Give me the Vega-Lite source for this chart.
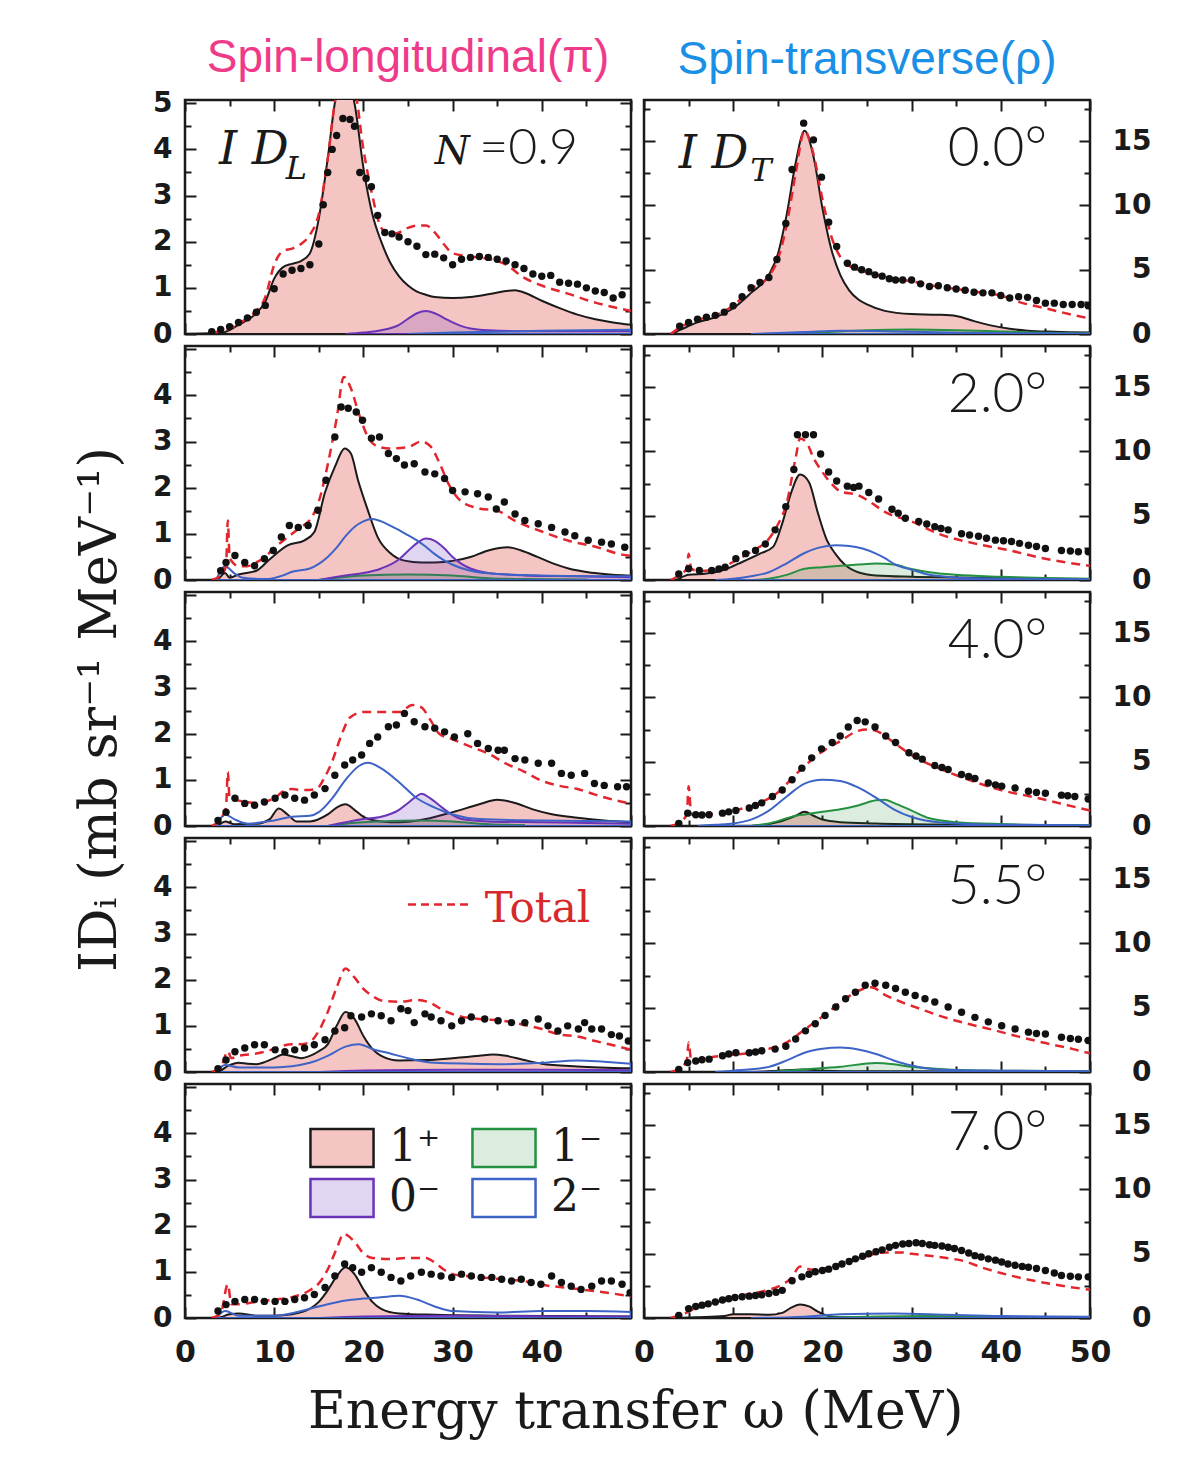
{
"$schema":"https://vega.github.io/schema/vega-lite/v6.json",
"background":"white",
"padding":{"left":72,"top":33,"right":8,"bottom":8},
"config":{"view":{"stroke":"#1a1a1a","strokeWidth":2.5},"axis":{"domain":false,"grid":false}},
"title":{"text":"Energy transfer ω (MeV)","orient":"bottom","anchor":"middle","font":"DejaVu Serif","fontSize":52,"fontWeight":"normal","color":"#1a1a1a","offset":14,"dx":21},
"datasets":{
"pts":[
{"p":"L1","x":3,"y":0.05},{"p":"L1","x":4,"y":0.1},{"p":"L1","x":5,"y":0.16},{"p":"L1","x":6,"y":0.25},{"p":"L1","x":7,"y":0.35},{"p":"L1","x":8,"y":0.47},{"p":"L1","x":9,"y":0.62},{"p":"L1","x":10,"y":0.98},{"p":"L1","x":11,"y":1.3},{"p":"L1","x":12,"y":1.38},{"p":"L1","x":13,"y":1.42},{"p":"L1","x":14,"y":1.5},{"p":"L1","x":15,"y":1.95},{"p":"L1","x":15.5,"y":2.8},{"p":"L1","x":16,"y":3.5},{"p":"L1","x":16.5,"y":4.0},{"p":"L1","x":17,"y":4.3},{"p":"L1","x":17.7,"y":4.67},{"p":"L1","x":18.5,"y":4.65},{"p":"L1","x":19,"y":4.5},{"p":"L1","x":19.6,"y":3.5},{"p":"L1","x":20.3,"y":3.37},{"p":"L1","x":20.9,"y":3.19},{"p":"L1","x":21.6,"y":2.57},{"p":"L1","x":22.4,"y":2.2},{"p":"L1","x":23.2,"y":2.17},{"p":"L1","x":24,"y":2.1},{"p":"L1","x":25,"y":2.0},{"p":"L1","x":26,"y":1.9},{"p":"L1","x":27,"y":1.72},{"p":"L1","x":28,"y":1.73},{"p":"L1","x":29,"y":1.65},{"p":"L1","x":30,"y":1.5},{"p":"L1","x":31,"y":1.62},{"p":"L1","x":32,"y":1.66},{"p":"L1","x":33,"y":1.68},{"p":"L1","x":34,"y":1.66},{"p":"L1","x":35,"y":1.62},{"p":"L1","x":36,"y":1.58},{"p":"L1","x":37,"y":1.5},{"p":"L1","x":38,"y":1.42},{"p":"L1","x":39,"y":1.3},{"p":"L1","x":40,"y":1.25},{"p":"L1","x":41,"y":1.27},{"p":"L1","x":42,"y":1.12},{"p":"L1","x":43,"y":1.1},{"p":"L1","x":44,"y":1.08},{"p":"L1","x":45,"y":1.0},{"p":"L1","x":46,"y":0.93},{"p":"L1","x":47,"y":0.9},{"p":"L1","x":48,"y":0.78},{"p":"L1","x":49,"y":0.85},
{"p":"R1","x":4,"y":0.6},{"p":"R1","x":5,"y":0.9},{"p":"R1","x":6,"y":1.15},{"p":"R1","x":7,"y":1.3},{"p":"R1","x":8,"y":1.45},{"p":"R1","x":9,"y":1.7},{"p":"R1","x":10,"y":2.2},{"p":"R1","x":11,"y":2.9},{"p":"R1","x":12,"y":3.6},{"p":"R1","x":13,"y":4.0},{"p":"R1","x":14,"y":4.4},{"p":"R1","x":14.9,"y":5.8},{"p":"R1","x":15.9,"y":8.6},{"p":"R1","x":16.6,"y":12.8},{"p":"R1","x":17.9,"y":16.4},{"p":"R1","x":19,"y":15.1},{"p":"R1","x":19.9,"y":12.2},{"p":"R1","x":20.7,"y":8.7},{"p":"R1","x":21.6,"y":6.8},{"p":"R1","x":22.8,"y":5.5},{"p":"R1","x":23.6,"y":5.2},{"p":"R1","x":24.4,"y":5.0},{"p":"R1","x":25.2,"y":4.85},{"p":"R1","x":25.9,"y":4.6},{"p":"R1","x":26.7,"y":4.5},{"p":"R1","x":27.5,"y":4.3},{"p":"R1","x":28.2,"y":4.2},{"p":"R1","x":29,"y":4.2},{"p":"R1","x":30,"y":4.2},{"p":"R1","x":31,"y":3.9},{"p":"R1","x":32,"y":3.7},{"p":"R1","x":33,"y":3.75},{"p":"R1","x":34,"y":3.6},{"p":"R1","x":35,"y":3.5},{"p":"R1","x":36,"y":3.4},{"p":"R1","x":37,"y":3.25},{"p":"R1","x":38,"y":3.2},{"p":"R1","x":39,"y":3.2},{"p":"R1","x":40,"y":3.0},{"p":"R1","x":41,"y":2.8},{"p":"R1","x":42,"y":2.9},{"p":"R1","x":43,"y":2.85},{"p":"R1","x":44,"y":2.6},{"p":"R1","x":45,"y":2.4},{"p":"R1","x":46,"y":2.4},{"p":"R1","x":47,"y":2.3},{"p":"R1","x":48,"y":2.3},{"p":"R1","x":49,"y":2.3},{"p":"R1","x":49.8,"y":2.2},
{"p":"L2","x":4,"y":0.2},{"p":"L2","x":4.6,"y":0.38},{"p":"L2","x":5.6,"y":0.53},{"p":"L2","x":6.7,"y":0.38},{"p":"L2","x":7.8,"y":0.31},{"p":"L2","x":8.9,"y":0.46},{"p":"L2","x":9.9,"y":0.64},{"p":"L2","x":10.8,"y":0.93},{"p":"L2","x":11.7,"y":1.18},{"p":"L2","x":12.7,"y":1.14},{"p":"L2","x":13.8,"y":1.18},{"p":"L2","x":14.9,"y":1.51},{"p":"L2","x":15.8,"y":2.16},{"p":"L2","x":16.8,"y":3.1},{"p":"L2","x":17.5,"y":3.75},{"p":"L2","x":18.3,"y":3.72},{"p":"L2","x":19.2,"y":3.64},{"p":"L2","x":19.9,"y":3.46},{"p":"L2","x":20.9,"y":3.07},{"p":"L2","x":21.8,"y":3.1},{"p":"L2","x":22.8,"y":2.74},{"p":"L2","x":23.7,"y":2.63},{"p":"L2","x":24.6,"y":2.49},{"p":"L2","x":25.7,"y":2.52},{"p":"L2","x":26.9,"y":2.34},{"p":"L2","x":28.0,"y":2.3},{"p":"L2","x":29.1,"y":2.2},{"p":"L2","x":30.0,"y":1.94},{"p":"L2","x":31.4,"y":1.91},{"p":"L2","x":32.8,"y":1.87},{"p":"L2","x":34.0,"y":1.8},{"p":"L2","x":34.9,"y":1.54},{"p":"L2","x":35.8,"y":1.69},{"p":"L2","x":37.0,"y":1.43},{"p":"L2","x":38.1,"y":1.29},{"p":"L2","x":39.6,"y":1.22},{"p":"L2","x":41.1,"y":1.14},{"p":"L2","x":42.6,"y":1.04},{"p":"L2","x":43.7,"y":0.96},{"p":"L2","x":45.2,"y":0.86},{"p":"L2","x":46.7,"y":0.82},{"p":"L2","x":47.8,"y":0.78},{"p":"L2","x":49.3,"y":0.71},
{"p":"R2","x":3.9,"y":0.47},{"p":"R2","x":5.0,"y":0.87},{"p":"R2","x":6.2,"y":0.74},{"p":"R2","x":7.6,"y":0.74},{"p":"R2","x":8.4,"y":0.85},{"p":"R2","x":9.1,"y":1.0},{"p":"R2","x":10.3,"y":1.66},{"p":"R2","x":11.4,"y":2.05},{"p":"R2","x":12.5,"y":2.3},{"p":"R2","x":13.6,"y":2.8},{"p":"R2","x":14.7,"y":3.9},{"p":"R2","x":15.9,"y":5.7},{"p":"R2","x":16.8,"y":8.6},{"p":"R2","x":17.2,"y":11.3},{"p":"R2","x":18.1,"y":11.3},{"p":"R2","x":19.0,"y":11.3},{"p":"R2","x":19.8,"y":9.8},{"p":"R2","x":20.7,"y":8.4},{"p":"R2","x":21.6,"y":7.7},{"p":"R2","x":22.8,"y":7.3},{"p":"R2","x":23.5,"y":7.2},{"p":"R2","x":24.1,"y":7.3},{"p":"R2","x":25.2,"y":6.8},{"p":"R2","x":26.3,"y":6.3},{"p":"R2","x":27.8,"y":5.5},{"p":"R2","x":28.5,"y":5.2},{"p":"R2","x":29.3,"y":4.8},{"p":"R2","x":30.8,"y":4.55},{"p":"R2","x":31.7,"y":4.35},{"p":"R2","x":32.6,"y":4.15},{"p":"R2","x":33.3,"y":4.0},{"p":"R2","x":34.1,"y":3.9},{"p":"R2","x":35.6,"y":3.6},{"p":"R2","x":36.5,"y":3.5},{"p":"R2","x":37.5,"y":3.4},{"p":"R2","x":38.4,"y":3.25},{"p":"R2","x":39.4,"y":3.1},{"p":"R2","x":40.3,"y":3.05},{"p":"R2","x":41.2,"y":3.0},{"p":"R2","x":42.1,"y":2.85},{"p":"R2","x":43.1,"y":2.7},{"p":"R2","x":44,"y":2.6},{"p":"R2","x":45.0,"y":2.45},{"p":"R2","x":46.8,"y":2.3},{"p":"R2","x":47.8,"y":2.25},{"p":"R2","x":48.7,"y":2.2},{"p":"R2","x":49.8,"y":2.2},
{"p":"L3","x":3.7,"y":0.12},{"p":"L3","x":4.6,"y":0.3},{"p":"L3","x":5.6,"y":0.6},{"p":"L3","x":6.7,"y":0.49},{"p":"L3","x":7.8,"y":0.45},{"p":"L3","x":8.9,"y":0.52},{"p":"L3","x":10.1,"y":0.6},{"p":"L3","x":11.2,"y":0.67},{"p":"L3","x":12.3,"y":0.6},{"p":"L3","x":13.4,"y":0.56},{"p":"L3","x":14.5,"y":0.67},{"p":"L3","x":15.7,"y":0.81},{"p":"L3","x":16.8,"y":1.1},{"p":"L3","x":17.9,"y":1.32},{"p":"L3","x":18.8,"y":1.43},{"p":"L3","x":19.8,"y":1.54},{"p":"L3","x":20.7,"y":1.79},{"p":"L3","x":21.6,"y":1.93},{"p":"L3","x":22.8,"y":2.15},{"p":"L3","x":23.7,"y":2.19},{"p":"L3","x":24.6,"y":2.44},{"p":"L3","x":25.7,"y":2.26},{"p":"L3","x":26.9,"y":2.15},{"p":"L3","x":28.0,"y":2.12},{"p":"L3","x":29.1,"y":2.04},{"p":"L3","x":30.2,"y":1.93},{"p":"L3","x":31.7,"y":2.0},{"p":"L3","x":32.8,"y":1.79},{"p":"L3","x":34.0,"y":1.68},{"p":"L3","x":35.1,"y":1.64},{"p":"L3","x":35.8,"y":1.64},{"p":"L3","x":37.0,"y":1.46},{"p":"L3","x":38.1,"y":1.43},{"p":"L3","x":39.6,"y":1.36},{"p":"L3","x":41.1,"y":1.36},{"p":"L3","x":42.2,"y":1.14},{"p":"L3","x":43.3,"y":1.1},{"p":"L3","x":44.8,"y":1.14},{"p":"L3","x":45.9,"y":0.92},{"p":"L3","x":47.0,"y":0.88},{"p":"L3","x":48.5,"y":0.85},{"p":"L3","x":49.5,"y":0.85},
{"p":"R3","x":3.9,"y":0.2},{"p":"R3","x":4.9,"y":1.0},{"p":"R3","x":5.8,"y":0.87},{"p":"R3","x":6.5,"y":0.85},{"p":"R3","x":7.3,"y":0.87},{"p":"R3","x":8.8,"y":1.0},{"p":"R3","x":9.5,"y":1.1},{"p":"R3","x":10.3,"y":1.2},{"p":"R3","x":11.8,"y":1.4},{"p":"R3","x":12.5,"y":1.6},{"p":"R3","x":13.2,"y":1.8},{"p":"R3","x":14.4,"y":2.3},{"p":"R3","x":15.5,"y":2.8},{"p":"R3","x":16.6,"y":3.6},{"p":"R3","x":17.7,"y":4.5},{"p":"R3","x":18.8,"y":5.3},{"p":"R3","x":19.9,"y":6.0},{"p":"R3","x":21.1,"y":6.5},{"p":"R3","x":22.0,"y":7.0},{"p":"R3","x":22.9,"y":7.7},{"p":"R3","x":23.9,"y":8.2},{"p":"R3","x":24.8,"y":8.1},{"p":"R3","x":25.9,"y":7.7},{"p":"R3","x":27.1,"y":7.0},{"p":"R3","x":28.2,"y":6.5},{"p":"R3","x":29.7,"y":5.7},{"p":"R3","x":30.5,"y":5.45},{"p":"R3","x":31.2,"y":5.2},{"p":"R3","x":32.6,"y":4.7},{"p":"R3","x":33.4,"y":4.55},{"p":"R3","x":34.1,"y":4.4},{"p":"R3","x":35.6,"y":4.0},{"p":"R3","x":36.4,"y":3.85},{"p":"R3","x":37.1,"y":3.7},{"p":"R3","x":38.6,"y":3.35},{"p":"R3","x":39.4,"y":3.2},{"p":"R3","x":40.1,"y":3.1},{"p":"R3","x":41.6,"y":2.95},{"p":"R3","x":43.1,"y":2.7},{"p":"R3","x":44,"y":2.6},{"p":"R3","x":45.0,"y":2.55},{"p":"R3","x":46.8,"y":2.4},{"p":"R3","x":47.5,"y":2.35},{"p":"R3","x":48.3,"y":2.3},{"p":"R3","x":49.8,"y":2.1},
{"p":"L4","x":3.7,"y":0.07},{"p":"L4","x":4.6,"y":0.26},{"p":"L4","x":5.6,"y":0.44},{"p":"L4","x":6.7,"y":0.52},{"p":"L4","x":7.8,"y":0.59},{"p":"L4","x":8.9,"y":0.59},{"p":"L4","x":10.1,"y":0.48},{"p":"L4","x":11.2,"y":0.44},{"p":"L4","x":12.3,"y":0.48},{"p":"L4","x":13.4,"y":0.52},{"p":"L4","x":14.5,"y":0.59},{"p":"L4","x":15.7,"y":0.7},{"p":"L4","x":16.8,"y":0.89},{"p":"L4","x":17.9,"y":0.96},{"p":"L4","x":18.6,"y":1.22},{"p":"L4","x":19.8,"y":1.19},{"p":"L4","x":20.9,"y":1.26},{"p":"L4","x":22.0,"y":1.22},{"p":"L4","x":23.1,"y":1.11},{"p":"L4","x":24.2,"y":1.37},{"p":"L4","x":25.0,"y":1.33},{"p":"L4","x":25.7,"y":1.07},{"p":"L4","x":26.9,"y":1.26},{"p":"L4","x":27.6,"y":1.19},{"p":"L4","x":28.7,"y":1.11},{"p":"L4","x":29.9,"y":1.0},{"p":"L4","x":31.0,"y":1.11},{"p":"L4","x":32.1,"y":1.19},{"p":"L4","x":33.6,"y":1.15},{"p":"L4","x":35.1,"y":1.11},{"p":"L4","x":36.6,"y":1.07},{"p":"L4","x":38.1,"y":1.07},{"p":"L4","x":39.6,"y":1.15},{"p":"L4","x":40.7,"y":1.0},{"p":"L4","x":41.8,"y":0.89},{"p":"L4","x":42.9,"y":1.0},{"p":"L4","x":44.1,"y":0.93},{"p":"L4","x":44.8,"y":1.07},{"p":"L4","x":45.6,"y":0.93},{"p":"L4","x":46.7,"y":0.93},{"p":"L4","x":47.8,"y":0.81},{"p":"L4","x":48.7,"y":0.78},{"p":"L4","x":49.7,"y":0.67},
{"p":"R4","x":3.9,"y":0.2},{"p":"R4","x":4.9,"y":0.73},{"p":"R4","x":5.8,"y":0.86},{"p":"R4","x":6.5,"y":0.95},{"p":"R4","x":7.3,"y":1.0},{"p":"R4","x":8.8,"y":1.26},{"p":"R4","x":9.5,"y":1.4},{"p":"R4","x":10.3,"y":1.5},{"p":"R4","x":11.8,"y":1.5},{"p":"R4","x":12.5,"y":1.55},{"p":"R4","x":13.2,"y":1.65},{"p":"R4","x":14.7,"y":1.78},{"p":"R4","x":15.9,"y":2.0},{"p":"R4","x":17.0,"y":2.57},{"p":"R4","x":18.1,"y":3.2},{"p":"R4","x":19.2,"y":3.75},{"p":"R4","x":20.3,"y":4.4},{"p":"R4","x":21.5,"y":5.05},{"p":"R4","x":22.6,"y":5.7},{"p":"R4","x":23.7,"y":6.2},{"p":"R4","x":24.8,"y":6.75},{"p":"R4","x":25.9,"y":6.9},{"p":"R4","x":27.1,"y":6.75},{"p":"R4","x":28.2,"y":6.5},{"p":"R4","x":29.3,"y":6.2},{"p":"R4","x":30.4,"y":5.95},{"p":"R4","x":31.5,"y":5.7},{"p":"R4","x":32.6,"y":5.45},{"p":"R4","x":34.1,"y":5.05},{"p":"R4","x":35.6,"y":4.65},{"p":"R4","x":37.1,"y":4.25},{"p":"R4","x":38.6,"y":3.9},{"p":"R4","x":40.1,"y":3.6},{"p":"R4","x":41.6,"y":3.35},{"p":"R4","x":43.1,"y":3.1},{"p":"R4","x":44,"y":3.0},{"p":"R4","x":45.0,"y":2.95},{"p":"R4","x":46.8,"y":2.7},{"p":"R4","x":47.8,"y":2.6},{"p":"R4","x":48.7,"y":2.55},{"p":"R4","x":49.8,"y":2.45},
{"p":"L5","x":3.7,"y":0.15},{"p":"L5","x":4.6,"y":0.29},{"p":"L5","x":5.6,"y":0.36},{"p":"L5","x":6.7,"y":0.4},{"p":"L5","x":7.8,"y":0.4},{"p":"L5","x":8.9,"y":0.36},{"p":"L5","x":10.1,"y":0.36},{"p":"L5","x":11.2,"y":0.36},{"p":"L5","x":12.3,"y":0.4},{"p":"L5","x":13.4,"y":0.44},{"p":"L5","x":14.5,"y":0.51},{"p":"L5","x":15.7,"y":0.66},{"p":"L5","x":16.8,"y":0.91},{"p":"L5","x":17.9,"y":1.17},{"p":"L5","x":18.8,"y":1.09},{"p":"L5","x":19.8,"y":0.99},{"p":"L5","x":20.9,"y":1.09},{"p":"L5","x":22.0,"y":0.99},{"p":"L5","x":23.1,"y":0.88},{"p":"L5","x":24.2,"y":0.8},{"p":"L5","x":25.3,"y":0.91},{"p":"L5","x":26.5,"y":0.99},{"p":"L5","x":27.6,"y":0.95},{"p":"L5","x":28.7,"y":0.91},{"p":"L5","x":29.9,"y":0.88},{"p":"L5","x":31.0,"y":0.95},{"p":"L5","x":32.1,"y":0.91},{"p":"L5","x":33.2,"y":0.88},{"p":"L5","x":34.4,"y":0.88},{"p":"L5","x":35.5,"y":0.84},{"p":"L5","x":36.6,"y":0.8},{"p":"L5","x":37.7,"y":0.84},{"p":"L5","x":38.8,"y":0.77},{"p":"L5","x":39.9,"y":0.73},{"p":"L5","x":41.1,"y":0.91},{"p":"L5","x":42.2,"y":0.77},{"p":"L5","x":43.3,"y":0.69},{"p":"L5","x":44.4,"y":0.62},{"p":"L5","x":45.6,"y":0.69},{"p":"L5","x":46.7,"y":0.8},{"p":"L5","x":47.8,"y":0.8},{"p":"L5","x":49.0,"y":0.73},{"p":"L5","x":49.9,"y":0.55},
{"p":"R5","x":3.9,"y":0.2},{"p":"R5","x":5.0,"y":0.73},{"p":"R5","x":5.8,"y":0.9},{"p":"R5","x":6.5,"y":1.0},{"p":"R5","x":7.2,"y":1.1},{"p":"R5","x":8.0,"y":1.25},{"p":"R5","x":8.8,"y":1.4},{"p":"R5","x":9.5,"y":1.5},{"p":"R5","x":10.2,"y":1.6},{"p":"R5","x":11.0,"y":1.65},{"p":"R5","x":11.8,"y":1.7},{"p":"R5","x":12.5,"y":1.75},{"p":"R5","x":13.2,"y":1.8},{"p":"R5","x":14.0,"y":1.9},{"p":"R5","x":14.8,"y":2.0},{"p":"R5","x":15.5,"y":2.15},{"p":"R5","x":16.6,"y":2.9},{"p":"R5","x":17.7,"y":3.2},{"p":"R5","x":18.5,"y":3.4},{"p":"R5","x":19.2,"y":3.6},{"p":"R5","x":20.0,"y":3.7},{"p":"R5","x":20.7,"y":3.8},{"p":"R5","x":21.5,"y":4.0},{"p":"R5","x":22.2,"y":4.2},{"p":"R5","x":23,"y":4.4},{"p":"R5","x":23.7,"y":4.6},{"p":"R5","x":24.5,"y":4.8},{"p":"R5","x":25.2,"y":5.0},{"p":"R5","x":26,"y":5.15},{"p":"R5","x":26.7,"y":5.3},{"p":"R5","x":27.5,"y":5.5},{"p":"R5","x":28.2,"y":5.65},{"p":"R5","x":29,"y":5.75},{"p":"R5","x":29.7,"y":5.8},{"p":"R5","x":30.5,"y":5.85},{"p":"R5","x":31.2,"y":5.8},{"p":"R5","x":32,"y":5.7},{"p":"R5","x":32.6,"y":5.65},{"p":"R5","x":33.4,"y":5.6},{"p":"R5","x":34.1,"y":5.5},{"p":"R5","x":34.8,"y":5.4},{"p":"R5","x":35.6,"y":5.25},{"p":"R5","x":36.4,"y":5.05},{"p":"R5","x":37.1,"y":4.85},{"p":"R5","x":37.8,"y":4.75},{"p":"R5","x":38.6,"y":4.6},{"p":"R5","x":39.4,"y":4.5},{"p":"R5","x":40.1,"y":4.35},{"p":"R5","x":40.8,"y":4.2},{"p":"R5","x":41.6,"y":4.1},{"p":"R5","x":42.4,"y":4.0},{"p":"R5","x":43.1,"y":3.95},{"p":"R5","x":44,"y":3.85},{"p":"R5","x":45.0,"y":3.7},{"p":"R5","x":46,"y":3.5},{"p":"R5","x":46.8,"y":3.3},{"p":"R5","x":47.8,"y":3.25},{"p":"R5","x":48.7,"y":3.2},{"p":"R5","x":49.8,"y":3.2}
],
"cur":[
{"p":"L1","c":"1⁺","x":0,"y":0},{"p":"L1","c":"1⁺","x":4,"y":0.02},{"p":"L1","c":"1⁺","x":6,"y":0.2},{"p":"L1","c":"1⁺","x":8,"y":0.45},{"p":"L1","c":"1⁺","x":9,"y":0.7},{"p":"L1","c":"1⁺","x":10,"y":1.2},{"p":"L1","c":"1⁺","x":11,"y":1.45},{"p":"L1","c":"1⁺","x":12,"y":1.52},{"p":"L1","c":"1⁺","x":13,"y":1.58},{"p":"L1","c":"1⁺","x":14,"y":1.75},{"p":"L1","c":"1⁺","x":15,"y":2.5},{"p":"L1","c":"1⁺","x":16,"y":3.8},{"p":"L1","c":"1⁺","x":17,"y":5.2},{"p":"L1","c":"1⁺","x":18,"y":5.5},{"p":"L1","c":"1⁺","x":19,"y":5.0},{"p":"L1","c":"1⁺","x":20,"y":3.6},{"p":"L1","c":"1⁺","x":21,"y":2.6},{"p":"L1","c":"1⁺","x":22,"y":2.0},{"p":"L1","c":"1⁺","x":23,"y":1.55},{"p":"L1","c":"1⁺","x":24,"y":1.25},{"p":"L1","c":"1⁺","x":25,"y":1.05},{"p":"L1","c":"1⁺","x":26,"y":0.92},{"p":"L1","c":"1⁺","x":27,"y":0.85},{"p":"L1","c":"1⁺","x":28,"y":0.8},{"p":"L1","c":"1⁺","x":30,"y":0.78},{"p":"L1","c":"1⁺","x":32,"y":0.8},{"p":"L1","c":"1⁺","x":34,"y":0.86},{"p":"L1","c":"1⁺","x":36,"y":0.93},{"p":"L1","c":"1⁺","x":37,"y":0.95},{"p":"L1","c":"1⁺","x":38,"y":0.9},{"p":"L1","c":"1⁺","x":40,"y":0.72},{"p":"L1","c":"1⁺","x":42,"y":0.56},{"p":"L1","c":"1⁺","x":44,"y":0.42},{"p":"L1","c":"1⁺","x":46,"y":0.32},{"p":"L1","c":"1⁺","x":48,"y":0.25},{"p":"L1","c":"1⁺","x":50,"y":0.2},
{"p":"L1","c":"0⁻","x":18,"y":0},{"p":"L1","c":"0⁻","x":20,"y":0.03},{"p":"L1","c":"0⁻","x":22,"y":0.08},{"p":"L1","c":"0⁻","x":24,"y":0.2},{"p":"L1","c":"0⁻","x":25,"y":0.33},{"p":"L1","c":"0⁻","x":26,"y":0.45},{"p":"L1","c":"0⁻","x":27,"y":0.5},{"p":"L1","c":"0⁻","x":28,"y":0.45},{"p":"L1","c":"0⁻","x":29,"y":0.35},{"p":"L1","c":"0⁻","x":30,"y":0.25},{"p":"L1","c":"0⁻","x":31,"y":0.17},{"p":"L1","c":"0⁻","x":32,"y":0.12},{"p":"L1","c":"0⁻","x":34,"y":0.08},{"p":"L1","c":"0⁻","x":38,"y":0.06},{"p":"L1","c":"0⁻","x":44,"y":0.06},{"p":"L1","c":"0⁻","x":50,"y":0.06},
{"p":"L1","c":"2⁻","x":25,"y":0},{"p":"L1","c":"2⁻","x":30,"y":0.03},{"p":"L1","c":"2⁻","x":40,"y":0.07},{"p":"L1","c":"2⁻","x":50,"y":0.09},
{"p":"L1","c":"tot","x":3,"y":0.03},{"p":"L1","c":"tot","x":5,"y":0.12},{"p":"L1","c":"tot","x":7,"y":0.35},{"p":"L1","c":"tot","x":8,"y":0.5},{"p":"L1","c":"tot","x":9,"y":0.8},{"p":"L1","c":"tot","x":10,"y":1.5},{"p":"L1","c":"tot","x":11,"y":1.8},{"p":"L1","c":"tot","x":12,"y":1.85},{"p":"L1","c":"tot","x":13,"y":1.95},{"p":"L1","c":"tot","x":14,"y":2.15},{"p":"L1","c":"tot","x":15,"y":2.6},{"p":"L1","c":"tot","x":16,"y":3.8},{"p":"L1","c":"tot","x":17,"y":5.2},{"p":"L1","c":"tot","x":18,"y":5.5},{"p":"L1","c":"tot","x":19,"y":5.3},{"p":"L1","c":"tot","x":20,"y":4.0},{"p":"L1","c":"tot","x":21,"y":3.0},{"p":"L1","c":"tot","x":22,"y":2.3},{"p":"L1","c":"tot","x":23,"y":2.15},{"p":"L1","c":"tot","x":24,"y":2.2},{"p":"L1","c":"tot","x":25,"y":2.3},{"p":"L1","c":"tot","x":26,"y":2.35},{"p":"L1","c":"tot","x":27,"y":2.35},{"p":"L1","c":"tot","x":28,"y":2.2},{"p":"L1","c":"tot","x":29,"y":1.95},{"p":"L1","c":"tot","x":30,"y":1.75},{"p":"L1","c":"tot","x":32,"y":1.68},{"p":"L1","c":"tot","x":34,"y":1.63},{"p":"L1","c":"tot","x":36,"y":1.5},{"p":"L1","c":"tot","x":38,"y":1.22},{"p":"L1","c":"tot","x":40,"y":1.05},{"p":"L1","c":"tot","x":43,"y":0.87},{"p":"L1","c":"tot","x":46,"y":0.68},{"p":"L1","c":"tot","x":49,"y":0.54},{"p":"L1","c":"tot","x":50,"y":0.5},
{"p":"R1","c":"1⁺","x":0,"y":0},{"p":"R1","c":"1⁺","x":3,"y":0},{"p":"R1","c":"1⁺","x":4,"y":0.3},{"p":"R1","c":"1⁺","x":6,"y":0.9},{"p":"R1","c":"1⁺","x":8,"y":1.3},{"p":"R1","c":"1⁺","x":10,"y":2.0},{"p":"R1","c":"1⁺","x":12,"y":3.2},{"p":"R1","c":"1⁺","x":14,"y":4.6},{"p":"R1","c":"1⁺","x":15,"y":6.2},{"p":"R1","c":"1⁺","x":16,"y":9.3},{"p":"R1","c":"1⁺","x":17,"y":13.3},{"p":"R1","c":"1⁺","x":18,"y":15.8},{"p":"R1","c":"1⁺","x":19,"y":13.8},{"p":"R1","c":"1⁺","x":20,"y":9.8},{"p":"R1","c":"1⁺","x":21,"y":6.6},{"p":"R1","c":"1⁺","x":22,"y":4.6},{"p":"R1","c":"1⁺","x":23,"y":3.4},{"p":"R1","c":"1⁺","x":24,"y":2.7},{"p":"R1","c":"1⁺","x":25,"y":2.3},{"p":"R1","c":"1⁺","x":27,"y":1.8},{"p":"R1","c":"1⁺","x":30,"y":1.55},{"p":"R1","c":"1⁺","x":33,"y":1.5},{"p":"R1","c":"1⁺","x":35,"y":1.4},{"p":"R1","c":"1⁺","x":37,"y":1.0},{"p":"R1","c":"1⁺","x":39,"y":0.65},{"p":"R1","c":"1⁺","x":41,"y":0.4},{"p":"R1","c":"1⁺","x":43,"y":0.26},{"p":"R1","c":"1⁺","x":46,"y":0.18},{"p":"R1","c":"1⁺","x":50,"y":0.12},
{"p":"R1","c":"1⁻","x":15,"y":0},{"p":"R1","c":"1⁻","x":20,"y":0.15},{"p":"R1","c":"1⁻","x":25,"y":0.3},{"p":"R1","c":"1⁻","x":30,"y":0.35},{"p":"R1","c":"1⁻","x":35,"y":0.3},{"p":"R1","c":"1⁻","x":40,"y":0.2},{"p":"R1","c":"1⁻","x":45,"y":0.1},{"p":"R1","c":"1⁻","x":50,"y":0.05},
{"p":"R1","c":"2⁻","x":12,"y":0},{"p":"R1","c":"2⁻","x":18,"y":0.15},{"p":"R1","c":"2⁻","x":22,"y":0.25},{"p":"R1","c":"2⁻","x":28,"y":0.2},{"p":"R1","c":"2⁻","x":35,"y":0.1},{"p":"R1","c":"2⁻","x":45,"y":0.05},{"p":"R1","c":"2⁻","x":50,"y":0.04},
{"p":"R1","c":"tot","x":3,"y":0},{"p":"R1","c":"tot","x":4,"y":0.5},{"p":"R1","c":"tot","x":6,"y":1.1},{"p":"R1","c":"tot","x":8,"y":1.45},{"p":"R1","c":"tot","x":10,"y":2.2},{"p":"R1","c":"tot","x":12,"y":3.5},{"p":"R1","c":"tot","x":14,"y":4.5},{"p":"R1","c":"tot","x":15,"y":5.8},{"p":"R1","c":"tot","x":16,"y":8.5},{"p":"R1","c":"tot","x":17,"y":12.5},{"p":"R1","c":"tot","x":18,"y":15.8},{"p":"R1","c":"tot","x":19,"y":14.0},{"p":"R1","c":"tot","x":20,"y":10.5},{"p":"R1","c":"tot","x":21,"y":7.6},{"p":"R1","c":"tot","x":22,"y":6.0},{"p":"R1","c":"tot","x":23,"y":5.3},{"p":"R1","c":"tot","x":25,"y":4.8},{"p":"R1","c":"tot","x":28,"y":4.3},{"p":"R1","c":"tot","x":30,"y":4.1},{"p":"R1","c":"tot","x":32,"y":3.8},{"p":"R1","c":"tot","x":35,"y":3.5},{"p":"R1","c":"tot","x":38,"y":3.2},{"p":"R1","c":"tot","x":40,"y":3.0},{"p":"R1","c":"tot","x":42,"y":2.5},{"p":"R1","c":"tot","x":45,"y":2.0},{"p":"R1","c":"tot","x":48,"y":1.5},{"p":"R1","c":"tot","x":50,"y":1.2},
{"p":"L2","c":"1⁺","x":0,"y":0},{"p":"L2","c":"1⁺","x":3.5,"y":0},{"p":"L2","c":"1⁺","x":4.5,"y":0.15},{"p":"L2","c":"1⁺","x":5,"y":0.05},{"p":"L2","c":"1⁺","x":6,"y":0.12},{"p":"L2","c":"1⁺","x":8,"y":0.2},{"p":"L2","c":"1⁺","x":9.5,"y":0.45},{"p":"L2","c":"1⁺","x":11.5,"y":0.75},{"p":"L2","c":"1⁺","x":13.4,"y":0.86},{"p":"L2","c":"1⁺","x":14.5,"y":1.04},{"p":"L2","c":"1⁺","x":15.7,"y":1.9},{"p":"L2","c":"1⁺","x":16.8,"y":2.45},{"p":"L2","c":"1⁺","x":17.9,"y":2.85},{"p":"L2","c":"1⁺","x":18.6,"y":2.74},{"p":"L2","c":"1⁺","x":19.4,"y":2.16},{"p":"L2","c":"1⁺","x":20.5,"y":1.51},{"p":"L2","c":"1⁺","x":21.6,"y":0.93},{"p":"L2","c":"1⁺","x":23.1,"y":0.57},{"p":"L2","c":"1⁺","x":24.6,"y":0.42},{"p":"L2","c":"1⁺","x":26.5,"y":0.38},{"p":"L2","c":"1⁺","x":28,"y":0.38},{"p":"L2","c":"1⁺","x":30.2,"y":0.42},{"p":"L2","c":"1⁺","x":32,"y":0.5},{"p":"L2","c":"1⁺","x":34,"y":0.64},{"p":"L2","c":"1⁺","x":36.2,"y":0.71},{"p":"L2","c":"1⁺","x":37.7,"y":0.64},{"p":"L2","c":"1⁺","x":39.5,"y":0.5},{"p":"L2","c":"1⁺","x":41.4,"y":0.35},{"p":"L2","c":"1⁺","x":43,"y":0.25},{"p":"L2","c":"1⁺","x":45.2,"y":0.17},{"p":"L2","c":"1⁺","x":47,"y":0.13},{"p":"L2","c":"1⁺","x":50,"y":0.09},
{"p":"L2","c":"1⁻","x":15,"y":0},{"p":"L2","c":"1⁻","x":17,"y":0.05},{"p":"L2","c":"1⁻","x":20,"y":0.1},{"p":"L2","c":"1⁻","x":25,"y":0.12},{"p":"L2","c":"1⁻","x":30,"y":0.1},{"p":"L2","c":"1⁻","x":33,"y":0.05},{"p":"L2","c":"1⁻","x":38,"y":0.02},{"p":"L2","c":"1⁻","x":45,"y":0.01},
{"p":"L2","c":"0⁻","x":15,"y":0},{"p":"L2","c":"0⁻","x":18,"y":0.1},{"p":"L2","c":"0⁻","x":20,"y":0.15},{"p":"L2","c":"0⁻","x":22,"y":0.25},{"p":"L2","c":"0⁻","x":24,"y":0.45},{"p":"L2","c":"0⁻","x":25,"y":0.63},{"p":"L2","c":"0⁻","x":26,"y":0.8},{"p":"L2","c":"0⁻","x":27,"y":0.9},{"p":"L2","c":"0⁻","x":28,"y":0.85},{"p":"L2","c":"0⁻","x":29,"y":0.7},{"p":"L2","c":"0⁻","x":30,"y":0.5},{"p":"L2","c":"0⁻","x":31,"y":0.35},{"p":"L2","c":"0⁻","x":32,"y":0.25},{"p":"L2","c":"0⁻","x":34,"y":0.15},{"p":"L2","c":"0⁻","x":38,"y":0.1},{"p":"L2","c":"0⁻","x":44,"y":0.08},{"p":"L2","c":"0⁻","x":50,"y":0.06},
{"p":"L2","c":"2⁻","x":3.5,"y":0},{"p":"L2","c":"2⁻","x":4.5,"y":0.3},{"p":"L2","c":"2⁻","x":5.5,"y":0.15},{"p":"L2","c":"2⁻","x":6.5,"y":0.05},{"p":"L2","c":"2⁻","x":9,"y":0.02},{"p":"L2","c":"2⁻","x":11,"y":0.1},{"p":"L2","c":"2⁻","x":12,"y":0.18},{"p":"L2","c":"2⁻","x":14,"y":0.25},{"p":"L2","c":"2⁻","x":15,"y":0.35},{"p":"L2","c":"2⁻","x":16,"y":0.5},{"p":"L2","c":"2⁻","x":17,"y":0.7},{"p":"L2","c":"2⁻","x":18,"y":0.95},{"p":"L2","c":"2⁻","x":19,"y":1.15},{"p":"L2","c":"2⁻","x":20,"y":1.27},{"p":"L2","c":"2⁻","x":21,"y":1.32},{"p":"L2","c":"2⁻","x":22,"y":1.27},{"p":"L2","c":"2⁻","x":23,"y":1.18},{"p":"L2","c":"2⁻","x":24,"y":1.08},{"p":"L2","c":"2⁻","x":25,"y":0.97},{"p":"L2","c":"2⁻","x":26,"y":0.86},{"p":"L2","c":"2⁻","x":27,"y":0.72},{"p":"L2","c":"2⁻","x":28,"y":0.56},{"p":"L2","c":"2⁻","x":29,"y":0.43},{"p":"L2","c":"2⁻","x":30,"y":0.33},{"p":"L2","c":"2⁻","x":32,"y":0.2},{"p":"L2","c":"2⁻","x":35,"y":0.13},{"p":"L2","c":"2⁻","x":40,"y":0.1},{"p":"L2","c":"2⁻","x":50,"y":0.08},
{"p":"L2","c":"tot","x":3,"y":0},{"p":"L2","c":"tot","x":4,"y":0.1},{"p":"L2","c":"tot","x":4.6,"y":0.3},{"p":"L2","c":"tot","x":4.8,"y":1.29},{"p":"L2","c":"tot","x":5,"y":0.5},{"p":"L2","c":"tot","x":5.5,"y":0.35},{"p":"L2","c":"tot","x":6,"y":0.3},{"p":"L2","c":"tot","x":7,"y":0.3},{"p":"L2","c":"tot","x":8,"y":0.38},{"p":"L2","c":"tot","x":9,"y":0.5},{"p":"L2","c":"tot","x":10,"y":0.7},{"p":"L2","c":"tot","x":11,"y":0.85},{"p":"L2","c":"tot","x":12,"y":1.0},{"p":"L2","c":"tot","x":13,"y":1.15},{"p":"L2","c":"tot","x":14,"y":1.3},{"p":"L2","c":"tot","x":15,"y":1.7},{"p":"L2","c":"tot","x":16,"y":2.5},{"p":"L2","c":"tot","x":17,"y":3.5},{"p":"L2","c":"tot","x":17.8,"y":4.4},{"p":"L2","c":"tot","x":18.5,"y":4.2},{"p":"L2","c":"tot","x":19.5,"y":3.6},{"p":"L2","c":"tot","x":20.5,"y":3.1},{"p":"L2","c":"tot","x":21.5,"y":2.9},{"p":"L2","c":"tot","x":23,"y":2.85},{"p":"L2","c":"tot","x":25,"y":2.88},{"p":"L2","c":"tot","x":26.5,"y":3.0},{"p":"L2","c":"tot","x":27.5,"y":2.9},{"p":"L2","c":"tot","x":28.5,"y":2.55},{"p":"L2","c":"tot","x":29.5,"y":2.1},{"p":"L2","c":"tot","x":31,"y":1.7},{"p":"L2","c":"tot","x":33,"y":1.55},{"p":"L2","c":"tot","x":35,"y":1.5},{"p":"L2","c":"tot","x":37,"y":1.28},{"p":"L2","c":"tot","x":40,"y":1.05},{"p":"L2","c":"tot","x":43,"y":0.85},{"p":"L2","c":"tot","x":46,"y":0.72},{"p":"L2","c":"tot","x":49,"y":0.55},{"p":"L2","c":"tot","x":50,"y":0.52},
{"p":"R2","c":"1⁺","x":0,"y":0},{"p":"R2","c":"1⁺","x":3.5,"y":0},{"p":"R2","c":"1⁺","x":4.5,"y":0.3},{"p":"R2","c":"1⁺","x":5,"y":0.4},{"p":"R2","c":"1⁺","x":7,"y":0.5},{"p":"R2","c":"1⁺","x":9,"y":0.8},{"p":"R2","c":"1⁺","x":11,"y":1.4},{"p":"R2","c":"1⁺","x":13,"y":2.05},{"p":"R2","c":"1⁺","x":14.5,"y":2.6},{"p":"R2","c":"1⁺","x":15.5,"y":4.4},{"p":"R2","c":"1⁺","x":16.5,"y":6.8},{"p":"R2","c":"1⁺","x":17.5,"y":8.2},{"p":"R2","c":"1⁺","x":18.5,"y":7.6},{"p":"R2","c":"1⁺","x":19.5,"y":5.2},{"p":"R2","c":"1⁺","x":20.5,"y":3.1},{"p":"R2","c":"1⁺","x":21.5,"y":2.0},{"p":"R2","c":"1⁺","x":22.5,"y":1.2},{"p":"R2","c":"1⁺","x":24,"y":0.6},{"p":"R2","c":"1⁺","x":26,"y":0.35},{"p":"R2","c":"1⁺","x":30,"y":0.25},{"p":"R2","c":"1⁺","x":35,"y":0.2},{"p":"R2","c":"1⁺","x":40,"y":0.15},{"p":"R2","c":"1⁺","x":50,"y":0.05},
{"p":"R2","c":"1⁻","x":12,"y":0},{"p":"R2","c":"1⁻","x":14,"y":0.1},{"p":"R2","c":"1⁻","x":16,"y":0.4},{"p":"R2","c":"1⁻","x":18,"y":0.87},{"p":"R2","c":"1⁻","x":20,"y":1.0},{"p":"R2","c":"1⁻","x":22,"y":1.1},{"p":"R2","c":"1⁻","x":24,"y":1.2},{"p":"R2","c":"1⁻","x":26,"y":1.28},{"p":"R2","c":"1⁻","x":28,"y":1.2},{"p":"R2","c":"1⁻","x":30,"y":0.85},{"p":"R2","c":"1⁻","x":32,"y":0.6},{"p":"R2","c":"1⁻","x":35,"y":0.4},{"p":"R2","c":"1⁻","x":40,"y":0.25},{"p":"R2","c":"1⁻","x":45,"y":0.15},{"p":"R2","c":"1⁻","x":50,"y":0.1},
{"p":"R2","c":"2⁻","x":8,"y":0},{"p":"R2","c":"2⁻","x":10,"y":0.1},{"p":"R2","c":"2⁻","x":12,"y":0.3},{"p":"R2","c":"2⁻","x":14,"y":0.6},{"p":"R2","c":"2⁻","x":16,"y":1.3},{"p":"R2","c":"2⁻","x":18,"y":2.1},{"p":"R2","c":"2⁻","x":19.5,"y":2.5},{"p":"R2","c":"2⁻","x":21.5,"y":2.7},{"p":"R2","c":"2⁻","x":23,"y":2.65},{"p":"R2","c":"2⁻","x":24.5,"y":2.45},{"p":"R2","c":"2⁻","x":26,"y":2.05},{"p":"R2","c":"2⁻","x":27,"y":1.7},{"p":"R2","c":"2⁻","x":28,"y":1.26},{"p":"R2","c":"2⁻","x":30,"y":0.8},{"p":"R2","c":"2⁻","x":32,"y":0.4},{"p":"R2","c":"2⁻","x":35,"y":0.2},{"p":"R2","c":"2⁻","x":40,"y":0.1},{"p":"R2","c":"2⁻","x":50,"y":0.05},
{"p":"R2","c":"tot","x":3,"y":0},{"p":"R2","c":"tot","x":4,"y":0.4},{"p":"R2","c":"tot","x":4.8,"y":0.9},{"p":"R2","c":"tot","x":5,"y":2.05},{"p":"R2","c":"tot","x":5.3,"y":0.9},{"p":"R2","c":"tot","x":6,"y":0.7},{"p":"R2","c":"tot","x":8,"y":0.8},{"p":"R2","c":"tot","x":10,"y":1.4},{"p":"R2","c":"tot","x":12,"y":2.2},{"p":"R2","c":"tot","x":14,"y":3.2},{"p":"R2","c":"tot","x":15,"y":4.3},{"p":"R2","c":"tot","x":16,"y":6.0},{"p":"R2","c":"tot","x":17,"y":9.5},{"p":"R2","c":"tot","x":17.5,"y":11.0},{"p":"R2","c":"tot","x":18.3,"y":10.6},{"p":"R2","c":"tot","x":19,"y":9.5},{"p":"R2","c":"tot","x":20,"y":8.4},{"p":"R2","c":"tot","x":21,"y":7.5},{"p":"R2","c":"tot","x":22,"y":6.9},{"p":"R2","c":"tot","x":24,"y":6.6},{"p":"R2","c":"tot","x":25.5,"y":6.0},{"p":"R2","c":"tot","x":27,"y":5.3},{"p":"R2","c":"tot","x":30,"y":4.55},{"p":"R2","c":"tot","x":33,"y":3.6},{"p":"R2","c":"tot","x":37,"y":2.85},{"p":"R2","c":"tot","x":41,"y":2.3},{"p":"R2","c":"tot","x":45,"y":1.65},{"p":"R2","c":"tot","x":50,"y":1.1},
{"p":"L3","c":"1⁺","x":0,"y":0},{"p":"L3","c":"1⁺","x":3.5,"y":0},{"p":"L3","c":"1⁺","x":4.5,"y":0.1},{"p":"L3","c":"1⁺","x":5.5,"y":0.04},{"p":"L3","c":"1⁺","x":8,"y":0.05},{"p":"L3","c":"1⁺","x":9.5,"y":0.15},{"p":"L3","c":"1⁺","x":10.5,"y":0.38},{"p":"L3","c":"1⁺","x":11.5,"y":0.25},{"p":"L3","c":"1⁺","x":12.5,"y":0.1},{"p":"L3","c":"1⁺","x":14,"y":0.1},{"p":"L3","c":"1⁺","x":16,"y":0.25},{"p":"L3","c":"1⁺","x":17,"y":0.4},{"p":"L3","c":"1⁺","x":18,"y":0.47},{"p":"L3","c":"1⁺","x":19,"y":0.35},{"p":"L3","c":"1⁺","x":20,"y":0.2},{"p":"L3","c":"1⁺","x":22,"y":0.1},{"p":"L3","c":"1⁺","x":24,"y":0.08},{"p":"L3","c":"1⁺","x":27,"y":0.15},{"p":"L3","c":"1⁺","x":30,"y":0.3},{"p":"L3","c":"1⁺","x":33,"y":0.47},{"p":"L3","c":"1⁺","x":35,"y":0.57},{"p":"L3","c":"1⁺","x":37,"y":0.5},{"p":"L3","c":"1⁺","x":39,"y":0.36},{"p":"L3","c":"1⁺","x":41,"y":0.26},{"p":"L3","c":"1⁺","x":44,"y":0.18},{"p":"L3","c":"1⁺","x":47,"y":0.12},{"p":"L3","c":"1⁺","x":50,"y":0.08},
{"p":"L3","c":"1⁻","x":16,"y":0},{"p":"L3","c":"1⁻","x":18,"y":0.05},{"p":"L3","c":"1⁻","x":22,"y":0.1},{"p":"L3","c":"1⁻","x":26,"y":0.12},{"p":"L3","c":"1⁻","x":30,"y":0.1},{"p":"L3","c":"1⁻","x":33,"y":0.05},{"p":"L3","c":"1⁻","x":38,"y":0.02},
{"p":"L3","c":"0⁻","x":16,"y":0},{"p":"L3","c":"0⁻","x":20,"y":0.15},{"p":"L3","c":"0⁻","x":22,"y":0.2},{"p":"L3","c":"0⁻","x":24,"y":0.35},{"p":"L3","c":"0⁻","x":25,"y":0.5},{"p":"L3","c":"0⁻","x":26,"y":0.65},{"p":"L3","c":"0⁻","x":26.5,"y":0.7},{"p":"L3","c":"0⁻","x":27.5,"y":0.6},{"p":"L3","c":"0⁻","x":28.5,"y":0.45},{"p":"L3","c":"0⁻","x":29.5,"y":0.3},{"p":"L3","c":"0⁻","x":31,"y":0.15},{"p":"L3","c":"0⁻","x":34,"y":0.1},{"p":"L3","c":"0⁻","x":40,"y":0.08},{"p":"L3","c":"0⁻","x":50,"y":0.05},
{"p":"L3","c":"2⁻","x":3.5,"y":0},{"p":"L3","c":"2⁻","x":4.5,"y":0.25},{"p":"L3","c":"2⁻","x":5.5,"y":0.15},{"p":"L3","c":"2⁻","x":7,"y":0.05},{"p":"L3","c":"2⁻","x":10,"y":0.12},{"p":"L3","c":"2⁻","x":12,"y":0.2},{"p":"L3","c":"2⁻","x":14,"y":0.22},{"p":"L3","c":"2⁻","x":15,"y":0.3},{"p":"L3","c":"2⁻","x":16.5,"y":0.6},{"p":"L3","c":"2⁻","x":18,"y":1.0},{"p":"L3","c":"2⁻","x":19.5,"y":1.3},{"p":"L3","c":"2⁻","x":20.5,"y":1.37},{"p":"L3","c":"2⁻","x":22,"y":1.25},{"p":"L3","c":"2⁻","x":24,"y":0.95},{"p":"L3","c":"2⁻","x":26,"y":0.6},{"p":"L3","c":"2⁻","x":28,"y":0.4},{"p":"L3","c":"2⁻","x":30,"y":0.25},{"p":"L3","c":"2⁻","x":33,"y":0.15},{"p":"L3","c":"2⁻","x":40,"y":0.12},{"p":"L3","c":"2⁻","x":50,"y":0.1},
{"p":"L3","c":"tot","x":3,"y":0},{"p":"L3","c":"tot","x":4,"y":0.15},{"p":"L3","c":"tot","x":4.6,"y":0.4},{"p":"L3","c":"tot","x":4.8,"y":1.17},{"p":"L3","c":"tot","x":5,"y":0.6},{"p":"L3","c":"tot","x":6,"y":0.55},{"p":"L3","c":"tot","x":8,"y":0.5},{"p":"L3","c":"tot","x":10,"y":0.6},{"p":"L3","c":"tot","x":11,"y":0.75},{"p":"L3","c":"tot","x":12,"y":0.8},{"p":"L3","c":"tot","x":13,"y":0.78},{"p":"L3","c":"tot","x":14,"y":0.78},{"p":"L3","c":"tot","x":15,"y":0.85},{"p":"L3","c":"tot","x":15.5,"y":1.0},{"p":"L3","c":"tot","x":16.5,"y":1.4},{"p":"L3","c":"tot","x":17.5,"y":1.95},{"p":"L3","c":"tot","x":18.5,"y":2.35},{"p":"L3","c":"tot","x":20,"y":2.47},{"p":"L3","c":"tot","x":22,"y":2.47},{"p":"L3","c":"tot","x":24,"y":2.47},{"p":"L3","c":"tot","x":25.5,"y":2.62},{"p":"L3","c":"tot","x":26.5,"y":2.57},{"p":"L3","c":"tot","x":27.5,"y":2.3},{"p":"L3","c":"tot","x":28.5,"y":2.0},{"p":"L3","c":"tot","x":30,"y":1.88},{"p":"L3","c":"tot","x":32,"y":1.72},{"p":"L3","c":"tot","x":34,"y":1.57},{"p":"L3","c":"tot","x":36,"y":1.35},{"p":"L3","c":"tot","x":38,"y":1.18},{"p":"L3","c":"tot","x":40,"y":0.98},{"p":"L3","c":"tot","x":42,"y":0.87},{"p":"L3","c":"tot","x":44,"y":0.8},{"p":"L3","c":"tot","x":46,"y":0.68},{"p":"L3","c":"tot","x":48,"y":0.57},{"p":"L3","c":"tot","x":50,"y":0.48},
{"p":"R3","c":"1⁺","x":0,"y":0},{"p":"R3","c":"1⁺","x":12,"y":0},{"p":"R3","c":"1⁺","x":14,"y":0.15},{"p":"R3","c":"1⁺","x":15,"y":0.3},{"p":"R3","c":"1⁺","x":17,"y":0.8},{"p":"R3","c":"1⁺","x":18,"y":1.1},{"p":"R3","c":"1⁺","x":19,"y":0.8},{"p":"R3","c":"1⁺","x":20,"y":0.5},{"p":"R3","c":"1⁺","x":22,"y":0.3},{"p":"R3","c":"1⁺","x":26,"y":0.2},{"p":"R3","c":"1⁺","x":35,"y":0.1},{"p":"R3","c":"1⁺","x":50,"y":0.03},
{"p":"R3","c":"1⁻","x":12,"y":0},{"p":"R3","c":"1⁻","x":14,"y":0.2},{"p":"R3","c":"1⁻","x":16,"y":0.6},{"p":"R3","c":"1⁻","x":17,"y":0.8},{"p":"R3","c":"1⁻","x":18,"y":0.9},{"p":"R3","c":"1⁻","x":20,"y":1.1},{"p":"R3","c":"1⁻","x":22,"y":1.3},{"p":"R3","c":"1⁻","x":24,"y":1.6},{"p":"R3","c":"1⁻","x":26,"y":2.0},{"p":"R3","c":"1⁻","x":27,"y":2.05},{"p":"R3","c":"1⁻","x":28,"y":1.8},{"p":"R3","c":"1⁻","x":30,"y":1.2},{"p":"R3","c":"1⁻","x":32,"y":0.6},{"p":"R3","c":"1⁻","x":35,"y":0.3},{"p":"R3","c":"1⁻","x":40,"y":0.15},{"p":"R3","c":"1⁻","x":50,"y":0.05},
{"p":"R3","c":"2⁻","x":6,"y":0},{"p":"R3","c":"2⁻","x":8,"y":0.1},{"p":"R3","c":"2⁻","x":10,"y":0.2},{"p":"R3","c":"2⁻","x":12,"y":0.5},{"p":"R3","c":"2⁻","x":14,"y":1.2},{"p":"R3","c":"2⁻","x":16,"y":2.3},{"p":"R3","c":"2⁻","x":18,"y":3.3},{"p":"R3","c":"2⁻","x":20,"y":3.6},{"p":"R3","c":"2⁻","x":22,"y":3.5},{"p":"R3","c":"2⁻","x":24,"y":3.0},{"p":"R3","c":"2⁻","x":26,"y":2.2},{"p":"R3","c":"2⁻","x":28,"y":1.3},{"p":"R3","c":"2⁻","x":30,"y":0.7},{"p":"R3","c":"2⁻","x":33,"y":0.3},{"p":"R3","c":"2⁻","x":40,"y":0.1},{"p":"R3","c":"2⁻","x":50,"y":0.05},
{"p":"R3","c":"tot","x":3,"y":0},{"p":"R3","c":"tot","x":4,"y":0.3},{"p":"R3","c":"tot","x":4.8,"y":0.9},{"p":"R3","c":"tot","x":5,"y":3.1},{"p":"R3","c":"tot","x":5.3,"y":0.9},{"p":"R3","c":"tot","x":7,"y":0.9},{"p":"R3","c":"tot","x":10,"y":1.2},{"p":"R3","c":"tot","x":13,"y":1.8},{"p":"R3","c":"tot","x":15,"y":2.6},{"p":"R3","c":"tot","x":17,"y":4.0},{"p":"R3","c":"tot","x":20,"y":5.8},{"p":"R3","c":"tot","x":22,"y":6.6},{"p":"R3","c":"tot","x":24,"y":7.4},{"p":"R3","c":"tot","x":25,"y":7.5},{"p":"R3","c":"tot","x":26,"y":7.4},{"p":"R3","c":"tot","x":28,"y":6.5},{"p":"R3","c":"tot","x":30,"y":5.5},{"p":"R3","c":"tot","x":33,"y":4.5},{"p":"R3","c":"tot","x":36,"y":3.7},{"p":"R3","c":"tot","x":40,"y":2.8},{"p":"R3","c":"tot","x":44,"y":2.2},{"p":"R3","c":"tot","x":47,"y":1.7},{"p":"R3","c":"tot","x":50,"y":1.2},
{"p":"L4","c":"1⁺","x":0,"y":0},{"p":"L4","c":"1⁺","x":3.5,"y":0},{"p":"L4","c":"1⁺","x":5,"y":0.15},{"p":"L4","c":"1⁺","x":6,"y":0.2},{"p":"L4","c":"1⁺","x":7,"y":0.18},{"p":"L4","c":"1⁺","x":8,"y":0.17},{"p":"L4","c":"1⁺","x":9,"y":0.22},{"p":"L4","c":"1⁺","x":10,"y":0.3},{"p":"L4","c":"1⁺","x":11,"y":0.38},{"p":"L4","c":"1⁺","x":12,"y":0.34},{"p":"L4","c":"1⁺","x":13,"y":0.3},{"p":"L4","c":"1⁺","x":14,"y":0.35},{"p":"L4","c":"1⁺","x":15,"y":0.45},{"p":"L4","c":"1⁺","x":16,"y":0.6},{"p":"L4","c":"1⁺","x":17,"y":1.0},{"p":"L4","c":"1⁺","x":18,"y":1.3},{"p":"L4","c":"1⁺","x":19,"y":1.15},{"p":"L4","c":"1⁺","x":20,"y":0.78},{"p":"L4","c":"1⁺","x":21,"y":0.5},{"p":"L4","c":"1⁺","x":22,"y":0.35},{"p":"L4","c":"1⁺","x":24,"y":0.25},{"p":"L4","c":"1⁺","x":27,"y":0.26},{"p":"L4","c":"1⁺","x":30,"y":0.3},{"p":"L4","c":"1⁺","x":33,"y":0.35},{"p":"L4","c":"1⁺","x":34.5,"y":0.38},{"p":"L4","c":"1⁺","x":36,"y":0.35},{"p":"L4","c":"1⁺","x":38,"y":0.26},{"p":"L4","c":"1⁺","x":40,"y":0.18},{"p":"L4","c":"1⁺","x":44,"y":0.12},{"p":"L4","c":"1⁺","x":50,"y":0.08},
{"p":"L4","c":"0⁻","x":15,"y":0},{"p":"L4","c":"0⁻","x":20,"y":0.03},{"p":"L4","c":"0⁻","x":30,"y":0.05},{"p":"L4","c":"0⁻","x":40,"y":0.05},{"p":"L4","c":"0⁻","x":50,"y":0.04},
{"p":"L4","c":"2⁻","x":3.5,"y":0},{"p":"L4","c":"2⁻","x":4.5,"y":0.15},{"p":"L4","c":"2⁻","x":6,"y":0.1},{"p":"L4","c":"2⁻","x":10,"y":0.1},{"p":"L4","c":"2⁻","x":14,"y":0.2},{"p":"L4","c":"2⁻","x":16,"y":0.35},{"p":"L4","c":"2⁻","x":18,"y":0.55},{"p":"L4","c":"2⁻","x":19.5,"y":0.6},{"p":"L4","c":"2⁻","x":21,"y":0.5},{"p":"L4","c":"2⁻","x":23,"y":0.4},{"p":"L4","c":"2⁻","x":25,"y":0.3},{"p":"L4","c":"2⁻","x":28,"y":0.2},{"p":"L4","c":"2⁻","x":32,"y":0.18},{"p":"L4","c":"2⁻","x":36,"y":0.17},{"p":"L4","c":"2⁻","x":40,"y":0.2},{"p":"L4","c":"2⁻","x":44,"y":0.25},{"p":"L4","c":"2⁻","x":47,"y":0.22},{"p":"L4","c":"2⁻","x":50,"y":0.18},
{"p":"L4","c":"tot","x":3,"y":0},{"p":"L4","c":"tot","x":4,"y":0.1},{"p":"L4","c":"tot","x":4.8,"y":0.45},{"p":"L4","c":"tot","x":5.2,"y":0.3},{"p":"L4","c":"tot","x":6,"y":0.35},{"p":"L4","c":"tot","x":8,"y":0.4},{"p":"L4","c":"tot","x":10,"y":0.5},{"p":"L4","c":"tot","x":11,"y":0.57},{"p":"L4","c":"tot","x":12,"y":0.6},{"p":"L4","c":"tot","x":13,"y":0.6},{"p":"L4","c":"tot","x":14,"y":0.65},{"p":"L4","c":"tot","x":15,"y":0.89},{"p":"L4","c":"tot","x":16,"y":1.3},{"p":"L4","c":"tot","x":17,"y":1.83},{"p":"L4","c":"tot","x":18,"y":2.24},{"p":"L4","c":"tot","x":19,"y":2.05},{"p":"L4","c":"tot","x":20,"y":1.8},{"p":"L4","c":"tot","x":21,"y":1.65},{"p":"L4","c":"tot","x":22,"y":1.55},{"p":"L4","c":"tot","x":24,"y":1.52},{"p":"L4","c":"tot","x":26,"y":1.56},{"p":"L4","c":"tot","x":27.5,"y":1.5},{"p":"L4","c":"tot","x":29,"y":1.33},{"p":"L4","c":"tot","x":31,"y":1.2},{"p":"L4","c":"tot","x":33,"y":1.15},{"p":"L4","c":"tot","x":36,"y":1.1},{"p":"L4","c":"tot","x":38,"y":1.02},{"p":"L4","c":"tot","x":40,"y":0.93},{"p":"L4","c":"tot","x":42,"y":0.81},{"p":"L4","c":"tot","x":44,"y":0.77},{"p":"L4","c":"tot","x":46,"y":0.67},{"p":"L4","c":"tot","x":48,"y":0.58},{"p":"L4","c":"tot","x":50,"y":0.48},
{"p":"R4","c":"1⁺","x":0,"y":0},{"p":"R4","c":"1⁺","x":12,"y":0},{"p":"R4","c":"1⁺","x":15,"y":0.1},{"p":"R4","c":"1⁺","x":18,"y":0.2},{"p":"R4","c":"1⁺","x":20,"y":0.1},{"p":"R4","c":"1⁺","x":25,"y":0.05},{"p":"R4","c":"1⁺","x":50,"y":0.02},
{"p":"R4","c":"1⁻","x":14,"y":0},{"p":"R4","c":"1⁻","x":18,"y":0.2},{"p":"R4","c":"1⁻","x":22,"y":0.4},{"p":"R4","c":"1⁻","x":26,"y":0.7},{"p":"R4","c":"1⁻","x":28,"y":0.6},{"p":"R4","c":"1⁻","x":30,"y":0.4},{"p":"R4","c":"1⁻","x":34,"y":0.2},{"p":"R4","c":"1⁻","x":40,"y":0.1},{"p":"R4","c":"1⁻","x":50,"y":0.05},
{"p":"R4","c":"2⁻","x":8,"y":0},{"p":"R4","c":"2⁻","x":10,"y":0.1},{"p":"R4","c":"2⁻","x":14,"y":0.4},{"p":"R4","c":"2⁻","x":16,"y":0.9},{"p":"R4","c":"2⁻","x":18,"y":1.5},{"p":"R4","c":"2⁻","x":20,"y":1.8},{"p":"R4","c":"2⁻","x":22,"y":1.9},{"p":"R4","c":"2⁻","x":24,"y":1.75},{"p":"R4","c":"2⁻","x":26,"y":1.4},{"p":"R4","c":"2⁻","x":28,"y":0.9},{"p":"R4","c":"2⁻","x":30,"y":0.5},{"p":"R4","c":"2⁻","x":33,"y":0.2},{"p":"R4","c":"2⁻","x":40,"y":0.1},{"p":"R4","c":"2⁻","x":50,"y":0.05},
{"p":"R4","c":"tot","x":3,"y":0},{"p":"R4","c":"tot","x":4,"y":0.3},{"p":"R4","c":"tot","x":4.8,"y":0.9},{"p":"R4","c":"tot","x":5,"y":2.3},{"p":"R4","c":"tot","x":5.3,"y":0.9},{"p":"R4","c":"tot","x":8,"y":1.2},{"p":"R4","c":"tot","x":12,"y":1.5},{"p":"R4","c":"tot","x":14,"y":1.8},{"p":"R4","c":"tot","x":16,"y":2.3},{"p":"R4","c":"tot","x":18,"y":3.3},{"p":"R4","c":"tot","x":20,"y":4.3},{"p":"R4","c":"tot","x":22,"y":5.4},{"p":"R4","c":"tot","x":24,"y":6.3},{"p":"R4","c":"tot","x":25.5,"y":6.6},{"p":"R4","c":"tot","x":27,"y":6.0},{"p":"R4","c":"tot","x":29,"y":5.4},{"p":"R4","c":"tot","x":31,"y":4.9},{"p":"R4","c":"tot","x":33,"y":4.4},{"p":"R4","c":"tot","x":36,"y":3.8},{"p":"R4","c":"tot","x":39,"y":3.3},{"p":"R4","c":"tot","x":42,"y":2.75},{"p":"R4","c":"tot","x":45,"y":2.25},{"p":"R4","c":"tot","x":48,"y":1.8},{"p":"R4","c":"tot","x":50,"y":1.45},
{"p":"L5","c":"1⁺","x":0,"y":0},{"p":"L5","c":"1⁺","x":3.5,"y":0},{"p":"L5","c":"1⁺","x":5,"y":0.08},{"p":"L5","c":"1⁺","x":6,"y":0.1},{"p":"L5","c":"1⁺","x":8,"y":0.05},{"p":"L5","c":"1⁺","x":10,"y":0.05},{"p":"L5","c":"1⁺","x":12,"y":0.08},{"p":"L5","c":"1⁺","x":14,"y":0.2},{"p":"L5","c":"1⁺","x":15,"y":0.35},{"p":"L5","c":"1⁺","x":16,"y":0.6},{"p":"L5","c":"1⁺","x":17,"y":0.9},{"p":"L5","c":"1⁺","x":18,"y":1.1},{"p":"L5","c":"1⁺","x":19,"y":0.95},{"p":"L5","c":"1⁺","x":20,"y":0.62},{"p":"L5","c":"1⁺","x":21,"y":0.35},{"p":"L5","c":"1⁺","x":22,"y":0.2},{"p":"L5","c":"1⁺","x":24,"y":0.1},{"p":"L5","c":"1⁺","x":28,"y":0.07},{"p":"L5","c":"1⁺","x":35,"y":0.05},{"p":"L5","c":"1⁺","x":50,"y":0.03},
{"p":"L5","c":"0⁻","x":15,"y":0},{"p":"L5","c":"0⁻","x":20,"y":0.03},{"p":"L5","c":"0⁻","x":30,"y":0.05},{"p":"L5","c":"0⁻","x":40,"y":0.04},{"p":"L5","c":"0⁻","x":50,"y":0.03},
{"p":"L5","c":"2⁻","x":3.5,"y":0},{"p":"L5","c":"2⁻","x":4.5,"y":0.15},{"p":"L5","c":"2⁻","x":6,"y":0.05},{"p":"L5","c":"2⁻","x":10,"y":0.05},{"p":"L5","c":"2⁻","x":14,"y":0.2},{"p":"L5","c":"2⁻","x":16,"y":0.3},{"p":"L5","c":"2⁻","x":18,"y":0.38},{"p":"L5","c":"2⁻","x":20,"y":0.42},{"p":"L5","c":"2⁻","x":22,"y":0.45},{"p":"L5","c":"2⁻","x":24,"y":0.48},{"p":"L5","c":"2⁻","x":26,"y":0.4},{"p":"L5","c":"2⁻","x":28,"y":0.25},{"p":"L5","c":"2⁻","x":30,"y":0.15},{"p":"L5","c":"2⁻","x":35,"y":0.12},{"p":"L5","c":"2⁻","x":40,"y":0.15},{"p":"L5","c":"2⁻","x":45,"y":0.15},{"p":"L5","c":"2⁻","x":50,"y":0.13},
{"p":"L5","c":"tot","x":3,"y":0},{"p":"L5","c":"tot","x":4,"y":0.1},{"p":"L5","c":"tot","x":4.8,"y":0.73},{"p":"L5","c":"tot","x":5.2,"y":0.3},{"p":"L5","c":"tot","x":6,"y":0.3},{"p":"L5","c":"tot","x":8,"y":0.35},{"p":"L5","c":"tot","x":10,"y":0.4},{"p":"L5","c":"tot","x":12,"y":0.45},{"p":"L5","c":"tot","x":14,"y":0.6},{"p":"L5","c":"tot","x":15,"y":0.75},{"p":"L5","c":"tot","x":16,"y":1.05},{"p":"L5","c":"tot","x":17,"y":1.5},{"p":"L5","c":"tot","x":17.8,"y":1.82},{"p":"L5","c":"tot","x":19,"y":1.65},{"p":"L5","c":"tot","x":20,"y":1.4},{"p":"L5","c":"tot","x":21,"y":1.3},{"p":"L5","c":"tot","x":23,"y":1.28},{"p":"L5","c":"tot","x":25,"y":1.3},{"p":"L5","c":"tot","x":27,"y":1.3},{"p":"L5","c":"tot","x":28,"y":1.2},{"p":"L5","c":"tot","x":29,"y":1.05},{"p":"L5","c":"tot","x":30,"y":0.95},{"p":"L5","c":"tot","x":32,"y":0.9},{"p":"L5","c":"tot","x":35,"y":0.85},{"p":"L5","c":"tot","x":38,"y":0.8},{"p":"L5","c":"tot","x":40,"y":0.72},{"p":"L5","c":"tot","x":43,"y":0.65},{"p":"L5","c":"tot","x":46,"y":0.58},{"p":"L5","c":"tot","x":49,"y":0.5},{"p":"L5","c":"tot","x":50,"y":0.47},
{"p":"R5","c":"1⁺","x":0,"y":0},{"p":"R5","c":"1⁺","x":4,"y":0},{"p":"R5","c":"1⁺","x":6,"y":0.05},{"p":"R5","c":"1⁺","x":9,"y":0.15},{"p":"R5","c":"1⁺","x":10,"y":0.3},{"p":"R5","c":"1⁺","x":12,"y":0.3},{"p":"R5","c":"1⁺","x":14,"y":0.25},{"p":"R5","c":"1⁺","x":15.5,"y":0.4},{"p":"R5","c":"1⁺","x":16.5,"y":0.8},{"p":"R5","c":"1⁺","x":17.5,"y":1.05},{"p":"R5","c":"1⁺","x":18.5,"y":0.9},{"p":"R5","c":"1⁺","x":19.5,"y":0.5},{"p":"R5","c":"1⁺","x":20.5,"y":0.2},{"p":"R5","c":"1⁺","x":22,"y":0.05},{"p":"R5","c":"1⁺","x":30,"y":0.02},{"p":"R5","c":"1⁺","x":50,"y":0.01},
{"p":"R5","c":"1⁻","x":18,"y":0},{"p":"R5","c":"1⁻","x":25,"y":0.1},{"p":"R5","c":"1⁻","x":32,"y":0.15},{"p":"R5","c":"1⁻","x":40,"y":0.1},{"p":"R5","c":"1⁻","x":50,"y":0.05},
{"p":"R5","c":"2⁻","x":12,"y":0},{"p":"R5","c":"2⁻","x":18,"y":0.1},{"p":"R5","c":"2⁻","x":22,"y":0.3},{"p":"R5","c":"2⁻","x":28,"y":0.35},{"p":"R5","c":"2⁻","x":34,"y":0.25},{"p":"R5","c":"2⁻","x":40,"y":0.15},{"p":"R5","c":"2⁻","x":50,"y":0.1},
{"p":"R5","c":"tot","x":3,"y":0},{"p":"R5","c":"tot","x":4,"y":0.2},{"p":"R5","c":"tot","x":6,"y":0.8},{"p":"R5","c":"tot","x":8,"y":1.2},{"p":"R5","c":"tot","x":10,"y":1.6},{"p":"R5","c":"tot","x":12,"y":1.9},{"p":"R5","c":"tot","x":14,"y":2.2},{"p":"R5","c":"tot","x":15.5,"y":2.6},{"p":"R5","c":"tot","x":16.5,"y":3.1},{"p":"R5","c":"tot","x":17.5,"y":4.0},{"p":"R5","c":"tot","x":18.5,"y":3.8},{"p":"R5","c":"tot","x":19.5,"y":3.75},{"p":"R5","c":"tot","x":21,"y":4.0},{"p":"R5","c":"tot","x":24,"y":4.6},{"p":"R5","c":"tot","x":27,"y":5.1},{"p":"R5","c":"tot","x":28.8,"y":5.1},{"p":"R5","c":"tot","x":30,"y":5.0},{"p":"R5","c":"tot","x":33,"y":4.75},{"p":"R5","c":"tot","x":36,"y":4.4},{"p":"R5","c":"tot","x":38,"y":3.9},{"p":"R5","c":"tot","x":40,"y":3.5},{"p":"R5","c":"tot","x":43,"y":3.0},{"p":"R5","c":"tot","x":46,"y":2.6},{"p":"R5","c":"tot","x":50,"y":2.2}
],
"ann":[
{"p":"L1","k":"id","x":3.8,"y":3.68,"t":"I D"},{"p":"L1","k":"sub","x":11.3,"y":3.35,"t":"L"},{"p":"L1","k":"it","x":28.0,"y":3.68,"t":"N"},{"p":"L1","k":"num","x":33.0,"y":3.68,"t":"=0.9"},
{"p":"R1","k":"id","x":3.9,"y":12.9,"t":"I D"},{"p":"R1","k":"sub","x":11.9,"y":11.9,"t":"T"},{"p":"R1","k":"ang","x":45.2,"y":13.1,"t":"0.0°"},
{"p":"R2","k":"ang","x":45.2,"y":13.1,"t":"2.0°"},{"p":"R3","k":"ang","x":45.2,"y":13.1,"t":"4.0°"},{"p":"R4","k":"ang","x":45.2,"y":13.1,"t":"5.5°"},{"p":"R5","k":"ang","x":45.2,"y":13.1,"t":"7.0°"},
{"p":"L4","k":"tot","x":33.6,"y":3.26,"t":"Total"},{"p":"L4","k":"dash","x":25.0,"x2":32.1,"y":3.63,"t":""}
]
},
"hconcat":[
{"spacing":12,"bounds":"flush","resolve":{"scale":{"x":"independent","y":"independent","fill":"independent","stroke":"independent"},"legend":{"fill":"independent","stroke":"independent"}},
"vconcat":[
{"width":446,"height":234,
"title":{"text":"Spin-longitudinal(π)","color":"#ef3a8a","font":"Liberation Sans","fontSize":46,"fontWeight":"normal","anchor":"middle","frame":"group","offset":7},
"encoding":{"x":{"field":"x","type":"quantitative","scale":{"domain":[0,50],"nice":false},"axis":null},"y":{"field":"y","type":"quantitative","scale":{"domain":[0,5.07],"nice":false},"axis":null}},
"layer":[
{"data":{"name":"cur"},"transform":[{"filter":"datum.p==='L1' && datum.c!=='tot'"}],"mark":{"type":"area","clip":true,"strokeWidth":2,"interpolate":"monotone"},
"encoding":{"x":{"field":"x","type":"quantitative","scale":{"domain":[0,50],"nice":false},"axis":{"orient":"bottom","values":[0,5,10,15,20,25,30,35,40,45,50],"labels":false,"tickSize":{"condition":{"test":"datum.value % 10 === 0","value":-11},"value":-6},"tickWidth":2,"tickColor":"#1a1a1a","title":null,"minExtent":0,"maxExtent":0}},
"y":{"field":"y","type":"quantitative","scale":{"domain":[0,5.07],"nice":false},"stack":null,"axis":{"orient":"left","values":[0,0.5,1,1.5,2,2.5,3,3.5,4,4.5,5],"tickSize":{"condition":{"test":"datum.value % 1 === 0","value":-11},"value":-6},"tickWidth":2,"tickColor":"#1a1a1a","title":null,"labelExpr":"datum.value % 1 === 0 ? format(datum.value, 'd') : ''","labelFont":"DejaVu Sans","labelFontWeight":"bold","labelFontSize":28,"labelColor":"#1a1a1a","labelPadding":24,"labelFlush":false,"labelOverlap":false,"labelBound":false}},
"fill":{"field":"c","type":"nominal","scale":{"domain":["1⁺","0⁻","1⁻","2⁻"],"range":["#f5c5c3","rgba(106,52,184,0.2)","rgba(35,145,63,0.16)","rgba(255,255,255,0)"]},"legend":null},
"stroke":{"field":"c","type":"nominal","scale":{"domain":["1⁺","0⁻","1⁻","2⁻"],"range":["#1a1a1a","#6a34b8","#23913f","#3d63c6"]},"legend":null}}},
{"data":{"name":"cur"},"transform":[{"filter":"datum.p==='L1' && datum.c==='tot'"}],"mark":{"type":"line","clip":true,"color":"#e3262e","strokeDash":[9,6],"strokeWidth":2.5,"interpolate":"monotone"},
"encoding":{"x":{"field":"x","type":"quantitative","scale":{"domain":[0,50],"nice":false},"axis":{"orient":"top","values":[0,5,10,15,20,25,30,35,40,45,50],"labels":false,"tickSize":{"condition":{"test":"datum.value % 10 === 0","value":-11},"value":-6},"tickWidth":2,"tickColor":"#1a1a1a","title":null,"minExtent":0,"maxExtent":0}},
"y":{"field":"y","type":"quantitative","scale":{"domain":[0,5.07],"nice":false},"axis":{"orient":"right","values":[0,0.5,1,1.5,2,2.5,3,3.5,4,4.5,5],"labels":false,"tickSize":{"condition":{"test":"datum.value % 1 === 0","value":-11},"value":-6},"tickWidth":2,"tickColor":"#1a1a1a","title":null,"minExtent":0,"maxExtent":0}}}},
{"data":{"name":"pts"},"transform":[{"filter":"datum.p==='L1'"}],"mark":{"type":"circle","size":55,"color":"#111","opacity":1,"clip":true}},
{"data":{"name":"ann"},"transform":[{"filter":"datum.p==='L1' && datum.k==='id'"}],"mark":{"type":"text","font":"DejaVu Serif","fontStyle":"italic","fontSize":46,"align":"left","baseline":"alphabetic","color":"#1a1a1a"},"encoding":{"text":{"field":"t","type":"nominal"}}},
{"data":{"name":"ann"},"transform":[{"filter":"datum.p==='L1' && datum.k==='sub'"}],"mark":{"type":"text","font":"DejaVu Serif","fontStyle":"italic","fontSize":32,"align":"left","baseline":"alphabetic","color":"#1a1a1a"},"encoding":{"text":{"field":"t","type":"nominal"}}},
{"data":{"name":"ann"},"transform":[{"filter":"datum.p==='L1' && datum.k==='it'"}],"mark":{"type":"text","font":"DejaVu Serif","fontStyle":"italic","fontSize":40,"align":"left","baseline":"alphabetic","color":"#1a1a1a"},"encoding":{"text":{"field":"t","type":"nominal"}}},
{"data":{"name":"ann"},"transform":[{"filter":"datum.p==='L1' && datum.k==='num'"}],"mark":{"type":"text","font":"Lato","fontWeight":300,"fontSize":50,"align":"left","baseline":"alphabetic","color":"#1a1a1a"},"encoding":{"text":{"field":"t","type":"nominal"}}}
],
"resolve":{"axis":{"x":"independent","y":"independent"}}},
{"width":446,"height":234,
"encoding":{"x":{"field":"x","type":"quantitative","scale":{"domain":[0,50],"nice":false},"axis":null},"y":{"field":"y","type":"quantitative","scale":{"domain":[0,5.07],"nice":false},"axis":null}},
"layer":[
{"data":{"name":"cur"},"transform":[{"filter":"datum.p==='L2' && datum.c!=='tot'"}],"mark":{"type":"area","clip":true,"strokeWidth":2,"interpolate":"monotone"},
"encoding":{"x":{"field":"x","type":"quantitative","scale":{"domain":[0,50],"nice":false},"axis":{"orient":"bottom","values":[0,5,10,15,20,25,30,35,40,45,50],"labels":false,"tickSize":{"condition":{"test":"datum.value % 10 === 0","value":-11},"value":-6},"tickWidth":2,"tickColor":"#1a1a1a","title":null,"minExtent":0,"maxExtent":0}},
"y":{"field":"y","type":"quantitative","scale":{"domain":[0,5.07],"nice":false},"stack":null,"axis":{"orient":"left","values":[0,0.5,1,1.5,2,2.5,3,3.5,4,4.5,5],"tickSize":{"condition":{"test":"datum.value % 1 === 0","value":-11},"value":-6},"tickWidth":2,"tickColor":"#1a1a1a","title":null,"labelExpr":"datum.value % 1 === 0 && datum.value < 5 ? format(datum.value, 'd') : ''","labelFont":"DejaVu Sans","labelFontWeight":"bold","labelFontSize":28,"labelColor":"#1a1a1a","labelPadding":24,"labelFlush":false,"labelOverlap":false,"labelBound":false}},
"fill":{"field":"c","type":"nominal","scale":{"domain":["1⁺","0⁻","1⁻","2⁻"],"range":["#f5c5c3","rgba(106,52,184,0.2)","rgba(35,145,63,0.16)","rgba(255,255,255,0)"]},"legend":null},
"stroke":{"field":"c","type":"nominal","scale":{"domain":["1⁺","0⁻","1⁻","2⁻"],"range":["#1a1a1a","#6a34b8","#23913f","#3d63c6"]},"legend":null}}},
{"data":{"name":"cur"},"transform":[{"filter":"datum.p==='L2' && datum.c==='tot'"}],"mark":{"type":"line","clip":true,"color":"#e3262e","strokeDash":[9,6],"strokeWidth":2.5,"interpolate":"monotone"},
"encoding":{"x":{"field":"x","type":"quantitative","scale":{"domain":[0,50],"nice":false},"axis":{"orient":"top","values":[0,5,10,15,20,25,30,35,40,45,50],"labels":false,"tickSize":{"condition":{"test":"datum.value % 10 === 0","value":-11},"value":-6},"tickWidth":2,"tickColor":"#1a1a1a","title":null,"minExtent":0,"maxExtent":0}},
"y":{"field":"y","type":"quantitative","scale":{"domain":[0,5.07],"nice":false},"axis":{"orient":"right","values":[0,0.5,1,1.5,2,2.5,3,3.5,4,4.5,5],"labels":false,"tickSize":{"condition":{"test":"datum.value % 1 === 0","value":-11},"value":-6},"tickWidth":2,"tickColor":"#1a1a1a","title":null,"minExtent":0,"maxExtent":0}}}},
{"data":{"name":"pts"},"transform":[{"filter":"datum.p==='L2'"}],"mark":{"type":"circle","size":55,"color":"#111","opacity":1,"clip":true}}
],
"resolve":{"axis":{"x":"independent","y":"independent"}}},
{"width":446,"height":234,
"encoding":{"x":{"field":"x","type":"quantitative","scale":{"domain":[0,50],"nice":false},"axis":null},"y":{"field":"y","type":"quantitative","scale":{"domain":[0,5.07],"nice":false},"axis":null}},
"layer":[
{"data":{"name":"cur"},"transform":[{"filter":"datum.p==='L3' && datum.c!=='tot'"}],"mark":{"type":"area","clip":true,"strokeWidth":2,"interpolate":"monotone"},
"encoding":{"x":{"field":"x","type":"quantitative","scale":{"domain":[0,50],"nice":false},"axis":{"orient":"bottom","values":[0,5,10,15,20,25,30,35,40,45,50],"labels":false,"tickSize":{"condition":{"test":"datum.value % 10 === 0","value":-11},"value":-6},"tickWidth":2,"tickColor":"#1a1a1a","title":null,"minExtent":0,"maxExtent":0}},
"y":{"field":"y","type":"quantitative","scale":{"domain":[0,5.07],"nice":false},"stack":null,"axis":{"orient":"left","values":[0,0.5,1,1.5,2,2.5,3,3.5,4,4.5,5],"tickSize":{"condition":{"test":"datum.value % 1 === 0","value":-11},"value":-6},"tickWidth":2,"tickColor":"#1a1a1a","title":"IDᵢ (mb sr⁻¹ MeV⁻¹)","titleFont":"DejaVu Serif","titleFontSize":53,"titleFontWeight":"normal","titleColor":"#1a1a1a","titlePadding":26,"labelExpr":"datum.value % 1 === 0 && datum.value < 5 ? format(datum.value, 'd') : ''","labelFont":"DejaVu Sans","labelFontWeight":"bold","labelFontSize":28,"labelColor":"#1a1a1a","labelPadding":24,"labelFlush":false,"labelOverlap":false,"labelBound":false}},
"fill":{"field":"c","type":"nominal","scale":{"domain":["1⁺","0⁻","1⁻","2⁻"],"range":["#f5c5c3","rgba(106,52,184,0.2)","rgba(35,145,63,0.16)","rgba(255,255,255,0)"]},"legend":null},
"stroke":{"field":"c","type":"nominal","scale":{"domain":["1⁺","0⁻","1⁻","2⁻"],"range":["#1a1a1a","#6a34b8","#23913f","#3d63c6"]},"legend":null}}},
{"data":{"name":"cur"},"transform":[{"filter":"datum.p==='L3' && datum.c==='tot'"}],"mark":{"type":"line","clip":true,"color":"#e3262e","strokeDash":[9,6],"strokeWidth":2.5,"interpolate":"monotone"},
"encoding":{"x":{"field":"x","type":"quantitative","scale":{"domain":[0,50],"nice":false},"axis":{"orient":"top","values":[0,5,10,15,20,25,30,35,40,45,50],"labels":false,"tickSize":{"condition":{"test":"datum.value % 10 === 0","value":-11},"value":-6},"tickWidth":2,"tickColor":"#1a1a1a","title":null,"minExtent":0,"maxExtent":0}},
"y":{"field":"y","type":"quantitative","scale":{"domain":[0,5.07],"nice":false},"axis":{"orient":"right","values":[0,0.5,1,1.5,2,2.5,3,3.5,4,4.5,5],"labels":false,"tickSize":{"condition":{"test":"datum.value % 1 === 0","value":-11},"value":-6},"tickWidth":2,"tickColor":"#1a1a1a","title":null,"minExtent":0,"maxExtent":0}}}},
{"data":{"name":"pts"},"transform":[{"filter":"datum.p==='L3'"}],"mark":{"type":"circle","size":55,"color":"#111","opacity":1,"clip":true}}
],
"resolve":{"axis":{"x":"independent","y":"independent"}}},
{"width":446,"height":234,
"encoding":{"x":{"field":"x","type":"quantitative","scale":{"domain":[0,50],"nice":false},"axis":null},"y":{"field":"y","type":"quantitative","scale":{"domain":[0,5.07],"nice":false},"axis":null}},
"layer":[
{"data":{"name":"cur"},"transform":[{"filter":"datum.p==='L4' && datum.c!=='tot'"}],"mark":{"type":"area","clip":true,"strokeWidth":2,"interpolate":"monotone"},
"encoding":{"x":{"field":"x","type":"quantitative","scale":{"domain":[0,50],"nice":false},"axis":{"orient":"bottom","values":[0,5,10,15,20,25,30,35,40,45,50],"labels":false,"tickSize":{"condition":{"test":"datum.value % 10 === 0","value":-11},"value":-6},"tickWidth":2,"tickColor":"#1a1a1a","title":null,"minExtent":0,"maxExtent":0}},
"y":{"field":"y","type":"quantitative","scale":{"domain":[0,5.07],"nice":false},"stack":null,"axis":{"orient":"left","values":[0,0.5,1,1.5,2,2.5,3,3.5,4,4.5,5],"tickSize":{"condition":{"test":"datum.value % 1 === 0","value":-11},"value":-6},"tickWidth":2,"tickColor":"#1a1a1a","title":null,"labelExpr":"datum.value % 1 === 0 && datum.value < 5 ? format(datum.value, 'd') : ''","labelFont":"DejaVu Sans","labelFontWeight":"bold","labelFontSize":28,"labelColor":"#1a1a1a","labelPadding":24,"labelFlush":false,"labelOverlap":false,"labelBound":false}},
"fill":{"field":"c","type":"nominal","scale":{"domain":["1⁺","0⁻","1⁻","2⁻"],"range":["#f5c5c3","rgba(106,52,184,0.2)","rgba(35,145,63,0.16)","rgba(255,255,255,0)"]},"legend":null},
"stroke":{"field":"c","type":"nominal","scale":{"domain":["1⁺","0⁻","1⁻","2⁻"],"range":["#1a1a1a","#6a34b8","#23913f","#3d63c6"]},"legend":null}}},
{"data":{"name":"cur"},"transform":[{"filter":"datum.p==='L4' && datum.c==='tot'"}],"mark":{"type":"line","clip":true,"color":"#e3262e","strokeDash":[9,6],"strokeWidth":2.5,"interpolate":"monotone"},
"encoding":{"x":{"field":"x","type":"quantitative","scale":{"domain":[0,50],"nice":false},"axis":{"orient":"top","values":[0,5,10,15,20,25,30,35,40,45,50],"labels":false,"tickSize":{"condition":{"test":"datum.value % 10 === 0","value":-11},"value":-6},"tickWidth":2,"tickColor":"#1a1a1a","title":null,"minExtent":0,"maxExtent":0}},
"y":{"field":"y","type":"quantitative","scale":{"domain":[0,5.07],"nice":false},"axis":{"orient":"right","values":[0,0.5,1,1.5,2,2.5,3,3.5,4,4.5,5],"labels":false,"tickSize":{"condition":{"test":"datum.value % 1 === 0","value":-11},"value":-6},"tickWidth":2,"tickColor":"#1a1a1a","title":null,"minExtent":0,"maxExtent":0}}}},
{"data":{"name":"pts"},"transform":[{"filter":"datum.p==='L4'"}],"mark":{"type":"circle","size":55,"color":"#111","opacity":1,"clip":true}},
{"data":{"name":"ann"},"transform":[{"filter":"datum.p==='L4' && datum.k==='tot'"}],"mark":{"type":"text","font":"DejaVu Serif","fontSize":42,"align":"left","baseline":"alphabetic","color":"#d62a2a"},"encoding":{"text":{"field":"t","type":"nominal"}}},
{"data":{"name":"ann"},"transform":[{"filter":"datum.p==='L4' && datum.k==='dash'"}],"mark":{"type":"rule","color":"#e3262e","strokeDash":[8,5],"strokeWidth":2.5},"encoding":{"x2":{"field":"x2"}}}
],
"resolve":{"axis":{"x":"independent","y":"independent"}}},
{"width":446,"height":234,
"encoding":{"x":{"field":"x","type":"quantitative","scale":{"domain":[0,50],"nice":false},"axis":null},"y":{"field":"y","type":"quantitative","scale":{"domain":[0,5.07],"nice":false},"axis":null}},
"layer":[
{"data":{"name":"cur"},"transform":[{"filter":"datum.p==='L5' && datum.c!=='tot'"}],"mark":{"type":"area","clip":true,"strokeWidth":2,"interpolate":"monotone"},
"encoding":{"x":{"field":"x","type":"quantitative","scale":{"domain":[0,50],"nice":false},"axis":{"orient":"bottom","values":[0,5,10,15,20,25,30,35,40,45,50],"tickSize":{"condition":{"test":"datum.value % 10 === 0","value":-11},"value":-6},"tickWidth":2,"tickColor":"#1a1a1a","title":null,"labelExpr":"datum.value % 10 === 0 && datum.value < 50 ? format(datum.value, 'd') : ''","labelFont":"DejaVu Sans","labelFontWeight":"bold","labelFontSize":30,"labelColor":"#1a1a1a","labelPadding":30,"labelFlush":false,"labelOverlap":false,"labelBound":false}},
"y":{"field":"y","type":"quantitative","scale":{"domain":[0,5.07],"nice":false},"stack":null,"axis":{"orient":"left","values":[0,0.5,1,1.5,2,2.5,3,3.5,4,4.5,5],"tickSize":{"condition":{"test":"datum.value % 1 === 0","value":-11},"value":-6},"tickWidth":2,"tickColor":"#1a1a1a","title":null,"labelExpr":"datum.value % 1 === 0 && datum.value < 5 ? format(datum.value, 'd') : ''","labelFont":"DejaVu Sans","labelFontWeight":"bold","labelFontSize":28,"labelColor":"#1a1a1a","labelPadding":24,"labelFlush":false,"labelOverlap":false,"labelBound":false}},
"fill":{"field":"c","type":"nominal","scale":{"domain":["1⁺","0⁻","1⁻","2⁻"],"range":["#f5c5c3","rgba(106,52,184,0.2)","rgba(35,145,63,0.16)","rgba(255,255,255,0)"]},"legend":{"orient":"none","legendX":135,"legendY":42,"columns":2,"title":null,"symbolType":"M-1.66,-1H1.66V1H-1.66Z","symbolSize":1444,"symbolStrokeWidth":2.5,"labelFont":"DejaVu Serif","labelFontSize":44,"labelColor":"#1a1a1a","labelOffset":25,"columnPadding":26,"rowPadding":2,"padding":0}},
"stroke":{"field":"c","type":"nominal","scale":{"domain":["1⁺","0⁻","1⁻","2⁻"],"range":["#1a1a1a","#6a34b8","#23913f","#3d63c6"]},"legend":{"orient":"none","legendX":135,"legendY":42,"columns":2,"title":null,"symbolType":"M-1.66,-1H1.66V1H-1.66Z","symbolSize":1444,"symbolStrokeWidth":2.5,"labelFont":"DejaVu Serif","labelFontSize":44,"labelColor":"#1a1a1a","labelOffset":25,"columnPadding":26,"rowPadding":2,"padding":0}}}},
{"data":{"name":"cur"},"transform":[{"filter":"datum.p==='L5' && datum.c==='tot'"}],"mark":{"type":"line","clip":true,"color":"#e3262e","strokeDash":[9,6],"strokeWidth":2.5,"interpolate":"monotone"},
"encoding":{"x":{"field":"x","type":"quantitative","scale":{"domain":[0,50],"nice":false},"axis":{"orient":"top","values":[0,5,10,15,20,25,30,35,40,45,50],"labels":false,"tickSize":{"condition":{"test":"datum.value % 10 === 0","value":-11},"value":-6},"tickWidth":2,"tickColor":"#1a1a1a","title":null,"minExtent":0,"maxExtent":0}},
"y":{"field":"y","type":"quantitative","scale":{"domain":[0,5.07],"nice":false},"axis":{"orient":"right","values":[0,0.5,1,1.5,2,2.5,3,3.5,4,4.5,5],"labels":false,"tickSize":{"condition":{"test":"datum.value % 1 === 0","value":-11},"value":-6},"tickWidth":2,"tickColor":"#1a1a1a","title":null,"minExtent":0,"maxExtent":0}}}},
{"data":{"name":"pts"},"transform":[{"filter":"datum.p==='L5'"}],"mark":{"type":"circle","size":55,"color":"#111","opacity":1,"clip":true}}
],
"resolve":{"axis":{"x":"independent","y":"independent"}}}
]},
{"spacing":12,"bounds":"flush","resolve":{"scale":{"x":"independent","y":"independent","fill":"independent","stroke":"independent"},"legend":{"fill":"independent","stroke":"independent"}},
"vconcat":[
{"width":446,"height":234,
"title":{"text":"Spin-transverse(ρ)","color":"#1a8fe6","font":"Liberation Sans","fontSize":46,"fontWeight":"normal","anchor":"middle","frame":"group","offset":11},
"encoding":{"x":{"field":"x","type":"quantitative","scale":{"domain":[0,50],"nice":false},"axis":null},"y":{"field":"y","type":"quantitative","scale":{"domain":[0,18.2],"nice":false},"axis":null}},
"layer":[
{"data":{"name":"cur"},"transform":[{"filter":"datum.p==='R1' && datum.c!=='tot'"}],"mark":{"type":"area","clip":true,"strokeWidth":2,"interpolate":"monotone"},
"encoding":{"x":{"field":"x","type":"quantitative","scale":{"domain":[0,50],"nice":false},"axis":{"orient":"bottom","values":[0,5,10,15,20,25,30,35,40,45,50],"labels":false,"tickSize":{"condition":{"test":"datum.value % 10 === 0","value":-11},"value":-6},"tickWidth":2,"tickColor":"#1a1a1a","title":null,"minExtent":0,"maxExtent":0}},
"y":{"field":"y","type":"quantitative","scale":{"domain":[0,18.2],"nice":false},"stack":null,"axis":{"orient":"left","values":[0,2.5,5,7.5,10,12.5,15,17.5],"labels":false,"tickSize":{"condition":{"test":"datum.value % 5 === 0","value":-11},"value":-6},"tickWidth":2,"tickColor":"#1a1a1a","title":null,"minExtent":0,"maxExtent":0}},
"fill":{"field":"c","type":"nominal","scale":{"domain":["1⁺","0⁻","1⁻","2⁻"],"range":["#f5c5c3","rgba(106,52,184,0.2)","rgba(35,145,63,0.16)","rgba(255,255,255,0)"]},"legend":null},
"stroke":{"field":"c","type":"nominal","scale":{"domain":["1⁺","0⁻","1⁻","2⁻"],"range":["#1a1a1a","#6a34b8","#23913f","#3d63c6"]},"legend":null}}},
{"data":{"name":"cur"},"transform":[{"filter":"datum.p==='R1' && datum.c==='tot'"}],"mark":{"type":"line","clip":true,"color":"#e3262e","strokeDash":[9,6],"strokeWidth":2.5,"interpolate":"monotone"},
"encoding":{"x":{"field":"x","type":"quantitative","scale":{"domain":[0,50],"nice":false},"axis":{"orient":"top","values":[0,5,10,15,20,25,30,35,40,45,50],"labels":false,"tickSize":{"condition":{"test":"datum.value % 10 === 0","value":-11},"value":-6},"tickWidth":2,"tickColor":"#1a1a1a","title":null,"minExtent":0,"maxExtent":0}},
"y":{"field":"y","type":"quantitative","scale":{"domain":[0,18.2],"nice":false},"axis":{"orient":"right","values":[0,2.5,5,7.5,10,12.5,15,17.5],"tickSize":{"condition":{"test":"datum.value % 5 === 0","value":-11},"value":-6},"tickWidth":2,"tickColor":"#1a1a1a","title":null,"labelExpr":"datum.value % 5 === 0 ? format(datum.value, 'd') : ''","labelAlign":"right","labelFont":"DejaVu Sans","labelFontWeight":"bold","labelFontSize":28,"labelColor":"#1a1a1a","labelPadding":72,"labelFlush":false,"labelOverlap":false,"labelBound":false}}}},
{"data":{"name":"pts"},"transform":[{"filter":"datum.p==='R1'"}],"mark":{"type":"circle","size":55,"color":"#111","opacity":1,"clip":true}},
{"data":{"name":"ann"},"transform":[{"filter":"datum.p==='R1' && datum.k==='id'"}],"mark":{"type":"text","font":"DejaVu Serif","fontStyle":"italic","fontSize":46,"align":"left","baseline":"alphabetic","color":"#1a1a1a"},"encoding":{"text":{"field":"t","type":"nominal"}}},
{"data":{"name":"ann"},"transform":[{"filter":"datum.p==='R1' && datum.k==='sub'"}],"mark":{"type":"text","font":"DejaVu Serif","fontStyle":"italic","fontSize":32,"align":"left","baseline":"alphabetic","color":"#1a1a1a"},"encoding":{"text":{"field":"t","type":"nominal"}}},
{"data":{"name":"ann"},"transform":[{"filter":"datum.p==='R1' && datum.k==='ang'"}],"mark":{"type":"text","font":"Lato","fontWeight":300,"fontSize":55,"align":"right","baseline":"alphabetic","color":"#1a1a1a"},"encoding":{"text":{"field":"t","type":"nominal"}}}
],
"resolve":{"axis":{"x":"independent","y":"independent"}}},
{"width":446,"height":234,
"encoding":{"x":{"field":"x","type":"quantitative","scale":{"domain":[0,50],"nice":false},"axis":null},"y":{"field":"y","type":"quantitative","scale":{"domain":[0,18.2],"nice":false},"axis":null}},
"layer":[
{"data":{"name":"cur"},"transform":[{"filter":"datum.p==='R2' && datum.c!=='tot'"}],"mark":{"type":"area","clip":true,"strokeWidth":2,"interpolate":"monotone"},
"encoding":{"x":{"field":"x","type":"quantitative","scale":{"domain":[0,50],"nice":false},"axis":{"orient":"bottom","values":[0,5,10,15,20,25,30,35,40,45,50],"labels":false,"tickSize":{"condition":{"test":"datum.value % 10 === 0","value":-11},"value":-6},"tickWidth":2,"tickColor":"#1a1a1a","title":null,"minExtent":0,"maxExtent":0}},
"y":{"field":"y","type":"quantitative","scale":{"domain":[0,18.2],"nice":false},"stack":null,"axis":{"orient":"left","values":[0,2.5,5,7.5,10,12.5,15,17.5],"labels":false,"tickSize":{"condition":{"test":"datum.value % 5 === 0","value":-11},"value":-6},"tickWidth":2,"tickColor":"#1a1a1a","title":null,"minExtent":0,"maxExtent":0}},
"fill":{"field":"c","type":"nominal","scale":{"domain":["1⁺","0⁻","1⁻","2⁻"],"range":["#f5c5c3","rgba(106,52,184,0.2)","rgba(35,145,63,0.16)","rgba(255,255,255,0)"]},"legend":null},
"stroke":{"field":"c","type":"nominal","scale":{"domain":["1⁺","0⁻","1⁻","2⁻"],"range":["#1a1a1a","#6a34b8","#23913f","#3d63c6"]},"legend":null}}},
{"data":{"name":"cur"},"transform":[{"filter":"datum.p==='R2' && datum.c==='tot'"}],"mark":{"type":"line","clip":true,"color":"#e3262e","strokeDash":[9,6],"strokeWidth":2.5,"interpolate":"monotone"},
"encoding":{"x":{"field":"x","type":"quantitative","scale":{"domain":[0,50],"nice":false},"axis":{"orient":"top","values":[0,5,10,15,20,25,30,35,40,45,50],"labels":false,"tickSize":{"condition":{"test":"datum.value % 10 === 0","value":-11},"value":-6},"tickWidth":2,"tickColor":"#1a1a1a","title":null,"minExtent":0,"maxExtent":0}},
"y":{"field":"y","type":"quantitative","scale":{"domain":[0,18.2],"nice":false},"axis":{"orient":"right","values":[0,2.5,5,7.5,10,12.5,15,17.5],"tickSize":{"condition":{"test":"datum.value % 5 === 0","value":-11},"value":-6},"tickWidth":2,"tickColor":"#1a1a1a","title":null,"labelExpr":"datum.value % 5 === 0 ? format(datum.value, 'd') : ''","labelAlign":"right","labelFont":"DejaVu Sans","labelFontWeight":"bold","labelFontSize":28,"labelColor":"#1a1a1a","labelPadding":72,"labelFlush":false,"labelOverlap":false,"labelBound":false}}}},
{"data":{"name":"pts"},"transform":[{"filter":"datum.p==='R2'"}],"mark":{"type":"circle","size":55,"color":"#111","opacity":1,"clip":true}},
{"data":{"name":"ann"},"transform":[{"filter":"datum.p==='R2' && datum.k==='ang'"}],"mark":{"type":"text","font":"Lato","fontWeight":300,"fontSize":55,"align":"right","baseline":"alphabetic","color":"#1a1a1a"},"encoding":{"text":{"field":"t","type":"nominal"}}}
],
"resolve":{"axis":{"x":"independent","y":"independent"}}},
{"width":446,"height":234,
"encoding":{"x":{"field":"x","type":"quantitative","scale":{"domain":[0,50],"nice":false},"axis":null},"y":{"field":"y","type":"quantitative","scale":{"domain":[0,18.2],"nice":false},"axis":null}},
"layer":[
{"data":{"name":"cur"},"transform":[{"filter":"datum.p==='R3' && datum.c!=='tot'"}],"mark":{"type":"area","clip":true,"strokeWidth":2,"interpolate":"monotone"},
"encoding":{"x":{"field":"x","type":"quantitative","scale":{"domain":[0,50],"nice":false},"axis":{"orient":"bottom","values":[0,5,10,15,20,25,30,35,40,45,50],"labels":false,"tickSize":{"condition":{"test":"datum.value % 10 === 0","value":-11},"value":-6},"tickWidth":2,"tickColor":"#1a1a1a","title":null,"minExtent":0,"maxExtent":0}},
"y":{"field":"y","type":"quantitative","scale":{"domain":[0,18.2],"nice":false},"stack":null,"axis":{"orient":"left","values":[0,2.5,5,7.5,10,12.5,15,17.5],"labels":false,"tickSize":{"condition":{"test":"datum.value % 5 === 0","value":-11},"value":-6},"tickWidth":2,"tickColor":"#1a1a1a","title":null,"minExtent":0,"maxExtent":0}},
"fill":{"field":"c","type":"nominal","scale":{"domain":["1⁺","0⁻","1⁻","2⁻"],"range":["#f5c5c3","rgba(106,52,184,0.2)","rgba(35,145,63,0.16)","rgba(255,255,255,0)"]},"legend":null},
"stroke":{"field":"c","type":"nominal","scale":{"domain":["1⁺","0⁻","1⁻","2⁻"],"range":["#1a1a1a","#6a34b8","#23913f","#3d63c6"]},"legend":null}}},
{"data":{"name":"cur"},"transform":[{"filter":"datum.p==='R3' && datum.c==='tot'"}],"mark":{"type":"line","clip":true,"color":"#e3262e","strokeDash":[9,6],"strokeWidth":2.5,"interpolate":"monotone"},
"encoding":{"x":{"field":"x","type":"quantitative","scale":{"domain":[0,50],"nice":false},"axis":{"orient":"top","values":[0,5,10,15,20,25,30,35,40,45,50],"labels":false,"tickSize":{"condition":{"test":"datum.value % 10 === 0","value":-11},"value":-6},"tickWidth":2,"tickColor":"#1a1a1a","title":null,"minExtent":0,"maxExtent":0}},
"y":{"field":"y","type":"quantitative","scale":{"domain":[0,18.2],"nice":false},"axis":{"orient":"right","values":[0,2.5,5,7.5,10,12.5,15,17.5],"tickSize":{"condition":{"test":"datum.value % 5 === 0","value":-11},"value":-6},"tickWidth":2,"tickColor":"#1a1a1a","title":null,"labelExpr":"datum.value % 5 === 0 ? format(datum.value, 'd') : ''","labelAlign":"right","labelFont":"DejaVu Sans","labelFontWeight":"bold","labelFontSize":28,"labelColor":"#1a1a1a","labelPadding":72,"labelFlush":false,"labelOverlap":false,"labelBound":false}}}},
{"data":{"name":"pts"},"transform":[{"filter":"datum.p==='R3'"}],"mark":{"type":"circle","size":55,"color":"#111","opacity":1,"clip":true}},
{"data":{"name":"ann"},"transform":[{"filter":"datum.p==='R3' && datum.k==='ang'"}],"mark":{"type":"text","font":"Lato","fontWeight":300,"fontSize":55,"align":"right","baseline":"alphabetic","color":"#1a1a1a"},"encoding":{"text":{"field":"t","type":"nominal"}}}
],
"resolve":{"axis":{"x":"independent","y":"independent"}}},
{"width":446,"height":234,
"encoding":{"x":{"field":"x","type":"quantitative","scale":{"domain":[0,50],"nice":false},"axis":null},"y":{"field":"y","type":"quantitative","scale":{"domain":[0,18.2],"nice":false},"axis":null}},
"layer":[
{"data":{"name":"cur"},"transform":[{"filter":"datum.p==='R4' && datum.c!=='tot'"}],"mark":{"type":"area","clip":true,"strokeWidth":2,"interpolate":"monotone"},
"encoding":{"x":{"field":"x","type":"quantitative","scale":{"domain":[0,50],"nice":false},"axis":{"orient":"bottom","values":[0,5,10,15,20,25,30,35,40,45,50],"labels":false,"tickSize":{"condition":{"test":"datum.value % 10 === 0","value":-11},"value":-6},"tickWidth":2,"tickColor":"#1a1a1a","title":null,"minExtent":0,"maxExtent":0}},
"y":{"field":"y","type":"quantitative","scale":{"domain":[0,18.2],"nice":false},"stack":null,"axis":{"orient":"left","values":[0,2.5,5,7.5,10,12.5,15,17.5],"labels":false,"tickSize":{"condition":{"test":"datum.value % 5 === 0","value":-11},"value":-6},"tickWidth":2,"tickColor":"#1a1a1a","title":null,"minExtent":0,"maxExtent":0}},
"fill":{"field":"c","type":"nominal","scale":{"domain":["1⁺","0⁻","1⁻","2⁻"],"range":["#f5c5c3","rgba(106,52,184,0.2)","rgba(35,145,63,0.16)","rgba(255,255,255,0)"]},"legend":null},
"stroke":{"field":"c","type":"nominal","scale":{"domain":["1⁺","0⁻","1⁻","2⁻"],"range":["#1a1a1a","#6a34b8","#23913f","#3d63c6"]},"legend":null}}},
{"data":{"name":"cur"},"transform":[{"filter":"datum.p==='R4' && datum.c==='tot'"}],"mark":{"type":"line","clip":true,"color":"#e3262e","strokeDash":[9,6],"strokeWidth":2.5,"interpolate":"monotone"},
"encoding":{"x":{"field":"x","type":"quantitative","scale":{"domain":[0,50],"nice":false},"axis":{"orient":"top","values":[0,5,10,15,20,25,30,35,40,45,50],"labels":false,"tickSize":{"condition":{"test":"datum.value % 10 === 0","value":-11},"value":-6},"tickWidth":2,"tickColor":"#1a1a1a","title":null,"minExtent":0,"maxExtent":0}},
"y":{"field":"y","type":"quantitative","scale":{"domain":[0,18.2],"nice":false},"axis":{"orient":"right","values":[0,2.5,5,7.5,10,12.5,15,17.5],"tickSize":{"condition":{"test":"datum.value % 5 === 0","value":-11},"value":-6},"tickWidth":2,"tickColor":"#1a1a1a","title":null,"labelExpr":"datum.value % 5 === 0 ? format(datum.value, 'd') : ''","labelAlign":"right","labelFont":"DejaVu Sans","labelFontWeight":"bold","labelFontSize":28,"labelColor":"#1a1a1a","labelPadding":72,"labelFlush":false,"labelOverlap":false,"labelBound":false}}}},
{"data":{"name":"pts"},"transform":[{"filter":"datum.p==='R4'"}],"mark":{"type":"circle","size":55,"color":"#111","opacity":1,"clip":true}},
{"data":{"name":"ann"},"transform":[{"filter":"datum.p==='R4' && datum.k==='ang'"}],"mark":{"type":"text","font":"Lato","fontWeight":300,"fontSize":55,"align":"right","baseline":"alphabetic","color":"#1a1a1a"},"encoding":{"text":{"field":"t","type":"nominal"}}}
],
"resolve":{"axis":{"x":"independent","y":"independent"}}},
{"width":446,"height":234,
"encoding":{"x":{"field":"x","type":"quantitative","scale":{"domain":[0,50],"nice":false},"axis":null},"y":{"field":"y","type":"quantitative","scale":{"domain":[0,18.2],"nice":false},"axis":null}},
"layer":[
{"data":{"name":"cur"},"transform":[{"filter":"datum.p==='R5' && datum.c!=='tot'"}],"mark":{"type":"area","clip":true,"strokeWidth":2,"interpolate":"monotone"},
"encoding":{"x":{"field":"x","type":"quantitative","scale":{"domain":[0,50],"nice":false},"axis":{"orient":"bottom","values":[0,5,10,15,20,25,30,35,40,45,50],"tickSize":{"condition":{"test":"datum.value % 10 === 0","value":-11},"value":-6},"tickWidth":2,"tickColor":"#1a1a1a","title":null,"labelExpr":"datum.value % 10 === 0 ? format(datum.value, 'd') : ''","labelFont":"DejaVu Sans","labelFontWeight":"bold","labelFontSize":30,"labelColor":"#1a1a1a","labelPadding":30,"labelFlush":false,"labelOverlap":false,"labelBound":false}},
"y":{"field":"y","type":"quantitative","scale":{"domain":[0,18.2],"nice":false},"stack":null,"axis":{"orient":"left","values":[0,2.5,5,7.5,10,12.5,15,17.5],"labels":false,"tickSize":{"condition":{"test":"datum.value % 5 === 0","value":-11},"value":-6},"tickWidth":2,"tickColor":"#1a1a1a","title":null,"minExtent":0,"maxExtent":0}},
"fill":{"field":"c","type":"nominal","scale":{"domain":["1⁺","0⁻","1⁻","2⁻"],"range":["#f5c5c3","rgba(106,52,184,0.2)","rgba(35,145,63,0.16)","rgba(255,255,255,0)"]},"legend":null},
"stroke":{"field":"c","type":"nominal","scale":{"domain":["1⁺","0⁻","1⁻","2⁻"],"range":["#1a1a1a","#6a34b8","#23913f","#3d63c6"]},"legend":null}}},
{"data":{"name":"cur"},"transform":[{"filter":"datum.p==='R5' && datum.c==='tot'"}],"mark":{"type":"line","clip":true,"color":"#e3262e","strokeDash":[9,6],"strokeWidth":2.5,"interpolate":"monotone"},
"encoding":{"x":{"field":"x","type":"quantitative","scale":{"domain":[0,50],"nice":false},"axis":{"orient":"top","values":[0,5,10,15,20,25,30,35,40,45,50],"labels":false,"tickSize":{"condition":{"test":"datum.value % 10 === 0","value":-11},"value":-6},"tickWidth":2,"tickColor":"#1a1a1a","title":null,"minExtent":0,"maxExtent":0}},
"y":{"field":"y","type":"quantitative","scale":{"domain":[0,18.2],"nice":false},"axis":{"orient":"right","values":[0,2.5,5,7.5,10,12.5,15,17.5],"tickSize":{"condition":{"test":"datum.value % 5 === 0","value":-11},"value":-6},"tickWidth":2,"tickColor":"#1a1a1a","title":null,"labelExpr":"datum.value % 5 === 0 ? format(datum.value, 'd') : ''","labelAlign":"right","labelFont":"DejaVu Sans","labelFontWeight":"bold","labelFontSize":28,"labelColor":"#1a1a1a","labelPadding":72,"labelFlush":false,"labelOverlap":false,"labelBound":false}}}},
{"data":{"name":"pts"},"transform":[{"filter":"datum.p==='R5'"}],"mark":{"type":"circle","size":55,"color":"#111","opacity":1,"clip":true}},
{"data":{"name":"ann"},"transform":[{"filter":"datum.p==='R5' && datum.k==='ang'"}],"mark":{"type":"text","font":"Lato","fontWeight":300,"fontSize":55,"align":"right","baseline":"alphabetic","color":"#1a1a1a"},"encoding":{"text":{"field":"t","type":"nominal"}}}
],
"resolve":{"axis":{"x":"independent","y":"independent"}}}
]}
],
"spacing":-2,
"resolve":{"scale":{"x":"independent","y":"independent","fill":"independent","stroke":"independent"},"legend":{"fill":"independent","stroke":"independent"}}
}
